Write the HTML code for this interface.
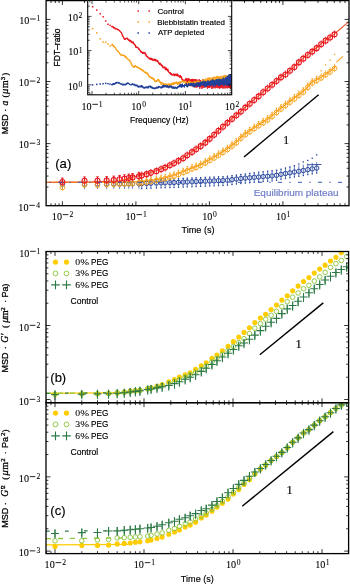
<!DOCTYPE html>
<html><head><meta charset="utf-8"><style>
html,body{margin:0;padding:0;background:#fff;}
#w{width:350px;height:584px;overflow:hidden;will-change:transform;}
svg{display:block;}
</style></head><body><div id="w">
<svg width="350" height="584" viewBox="0 0 350 584">
<rect x="0" y="0" width="350" height="584" fill="#fff"/>
<path d="M46.1 182.4L130 182.1L150 180.67L153 180.18L156 179.68L159 179.12L162 178.53L165 177.94L168 177.1L171 176.2L174 175.29L177 174.13L180 172.95L183 171.76L186 170.52L189 169.29L192 168.08L195 167L198 165.91L201 164.39L204 162.78L207 161.1L210 159.41L213 157.73L216 155.94L219 154.07L222 152.2L225 150.34L228 148.21L231 145.99L234 143.78L237 141.57L240 138.43L243 135.52L246 133.44L249 131.36L252 129.3L255 127.31L258 125.32L261 123.35L264 121.43L267 119.52L270 117.53L273 114.85L276 112.16L279 109.7L282 107.39L285 105.09L288 102.83L291 100.59L294 98.35L297 96.08L300 93.81L303 91.53L306 88.59L309 85.26L312 82.28L315 80.66L318 78.96L321 77.16L324 75.15L327 73.15L330 71.2L333 68.8L336 66.3" stroke="#f8a21a" stroke-width="1.2" fill="none" stroke-linejoin="round"/>
<path d="M336.4 62.1L342.9 56.4" stroke="#f8a21a" stroke-width="1.1" fill="none" stroke-linejoin="round"/>
<path d="M46.1 182.3L92 181.9L120 181L135 176.47L138 175.9L141 175.22L144 174.38L147 173.55L150 172.66L153 171.7L156 170.75L159 169.63L162 168.41L165 167.18L168 165.75L171 164.25L174 162.75L177 161.16L180 159.55L183 157.93L186 155.72L189 153.64L192 151.6L195 149.52L198 147.43L201 145.43L204 143.26L207 140.73L210 138.08L213 135.37L216 132.52L219 129.75L222 127.16L225 124.51L228 121.84L231 119.29L234 116.79L237 114.35L240 111.9L243 109.2L246 106.49L249 103.91L252 101.41L255 98.91L258 96.4L261 93.69L264 91.08L267 88.57L270 86.07L273 83.54L276 81L279 78.46L282 76.19L285 74.25L288 71.85L291 69.34L294 66.93L297 63.95L300 60.93L303 58.42L306 55.92L309 53.56L312 51.3L315 49.03L318 46.52L321 43.94L324 41.36L327 39.19L330 37.06L333 34.93L336 32.6L339 30.04L342 27.48L345 24.92L348 22.35" stroke="#f15a29" stroke-width="1.1" fill="none" stroke-linejoin="round"/>
<path d="M62.4 180.6L62.4 189.2M84.53 180.56L84.53 189.2M97.47 180.45L97.47 189.1M106.65 180.39L106.65 189.06M113.77 180.35L113.77 189.03M119.59 180.32L119.59 189M124.51 180.24L124.51 188.93M128.78 180.17L128.78 188.87M132.54 180.11L132.54 188.81M138.94 180L138.94 188.72M141.72 179.91L141.72 188.63M146.64 179.7L146.64 188.43M150.9 179.52L150.9 188.25M156.39 179.29L156.39 188.03M161.07 179.14L161.07 187.88M165.15 179.02L165.15 187.77M169.89 178.87L169.89 187.63M174.01 178.75L174.01 187.51M178.51 178.56L178.51 187.33M183.19 178.36L183.19 187.14M187.27 178.19L187.27 186.97M192.01 177.98L192.01 186.77M196.14 177.8L196.14 186.59M200.64 177.6L200.64 186.4M205.32 177.38L205.32 186.2M209.72 177.18L209.72 186.03M214.14 176.99L214.14 185.86M218.5 176.79L218.5 185.68M222.97 176.59L222.97 185.51M227.45 176.24L227.45 185.18M232 175.65L232 184.61M236.4 175.07L236.4 184.05M240.87 174.49L240.87 183.52M245.31 173.94L245.31 183.13M249.75 173.38L249.75 182.74M254.21 172.83L254.21 182.36M258.66 172.27L258.66 181.97M263.17 171.72L263.17 181.58M267.64 171.24L267.64 181.27M272.1 170.72L272.1 180.92M276.53 170.17L276.53 180.32M280.99 169.22L280.99 179.32M285.47 168.03L285.47 178.52M289.92 166.94L289.92 177.83M294.38 166.02L294.38 177.02M298.85 165.32L298.85 176.32M303.3 164.52L303.3 175.52M307.78 163.62L307.78 174.62M312.24 162.91L312.24 173.91M316.7 162.12L316.7 173.12" stroke="#21409a" stroke-width="0.7" fill="none"/>
<g fill="#21409a"><rect x="141.07" y="179.26" width="1.3" height="1.3"/><rect x="145.99" y="179.05" width="1.3" height="1.3"/><rect x="150.25" y="178.87" width="1.3" height="1.3"/><rect x="155.74" y="178.64" width="1.3" height="1.3"/><rect x="160.42" y="178.49" width="1.3" height="1.3"/><rect x="164.5" y="178.37" width="1.3" height="1.3"/><rect x="169.24" y="178.22" width="1.3" height="1.3"/><rect x="173.36" y="178.1" width="1.3" height="1.3"/><rect x="177.86" y="177.91" width="1.3" height="1.3"/><rect x="182.54" y="177.71" width="1.3" height="1.3"/><rect x="186.62" y="177.54" width="1.3" height="1.3"/><rect x="191.36" y="177.33" width="1.3" height="1.3"/><rect x="195.49" y="177.15" width="1.3" height="1.3"/><rect x="199.99" y="176.95" width="1.3" height="1.3"/><rect x="204.67" y="176.73" width="1.3" height="1.3"/><rect x="209.07" y="176.53" width="1.3" height="1.3"/><rect x="213.49" y="176.34" width="1.3" height="1.3"/><rect x="217.85" y="176.14" width="1.3" height="1.3"/><rect x="222.32" y="175.94" width="1.3" height="1.3"/><rect x="226.8" y="175.59" width="1.3" height="1.3"/><rect x="231.35" y="175" width="1.3" height="1.3"/><rect x="235.75" y="174.42" width="1.3" height="1.3"/><rect x="240.22" y="173.84" width="1.3" height="1.3"/><rect x="244.66" y="173.29" width="1.3" height="1.3"/><rect x="249.1" y="172.73" width="1.3" height="1.3"/><rect x="253.56" y="172.18" width="1.3" height="1.3"/><rect x="258.01" y="171.62" width="1.3" height="1.3"/><rect x="262.52" y="171.07" width="1.3" height="1.3"/><rect x="266.99" y="170.59" width="1.3" height="1.3"/><rect x="271.45" y="170.07" width="1.3" height="1.3"/><rect x="275.88" y="169.52" width="1.3" height="1.3"/><rect x="280.34" y="168.57" width="1.3" height="1.3"/><rect x="284.82" y="167.38" width="1.3" height="1.3"/><rect x="289.27" y="166.29" width="1.3" height="1.3"/><rect x="293.73" y="164.98" width="1.3" height="1.3"/><rect x="298.2" y="163.31" width="1.3" height="1.3"/><rect x="302.65" y="161.29" width="1.3" height="1.3"/><rect x="307.13" y="159.79" width="1.3" height="1.3"/><rect x="311.59" y="157.58" width="1.3" height="1.3"/><rect x="316.05" y="154.23" width="1.3" height="1.3"/></g>
<g fill="#21409a"><rect x="141.12" y="188.03" width="1.2" height="1.2"/><rect x="146.04" y="187.83" width="1.2" height="1.2"/><rect x="150.3" y="187.65" width="1.2" height="1.2"/><rect x="155.79" y="187.43" width="1.2" height="1.2"/><rect x="160.47" y="187.28" width="1.2" height="1.2"/><rect x="164.55" y="187.17" width="1.2" height="1.2"/><rect x="169.29" y="187.03" width="1.2" height="1.2"/><rect x="173.41" y="186.91" width="1.2" height="1.2"/><rect x="177.91" y="186.73" width="1.2" height="1.2"/><rect x="182.59" y="186.54" width="1.2" height="1.2"/><rect x="186.67" y="186.37" width="1.2" height="1.2"/><rect x="191.41" y="186.17" width="1.2" height="1.2"/><rect x="195.54" y="185.99" width="1.2" height="1.2"/><rect x="200.04" y="185.8" width="1.2" height="1.2"/><rect x="204.72" y="185.6" width="1.2" height="1.2"/><rect x="209.12" y="185.43" width="1.2" height="1.2"/><rect x="213.54" y="185.26" width="1.2" height="1.2"/><rect x="217.9" y="185.08" width="1.2" height="1.2"/><rect x="222.37" y="184.91" width="1.2" height="1.2"/><rect x="226.85" y="184.58" width="1.2" height="1.2"/><rect x="231.4" y="184.01" width="1.2" height="1.2"/><rect x="235.8" y="183.45" width="1.2" height="1.2"/><rect x="240.27" y="182.92" width="1.2" height="1.2"/><rect x="244.71" y="182.53" width="1.2" height="1.2"/><rect x="249.15" y="182.14" width="1.2" height="1.2"/><rect x="253.61" y="181.76" width="1.2" height="1.2"/><rect x="258.06" y="181.37" width="1.2" height="1.2"/><rect x="262.57" y="180.98" width="1.2" height="1.2"/><rect x="267.04" y="180.67" width="1.2" height="1.2"/><rect x="271.5" y="180.32" width="1.2" height="1.2"/><rect x="275.93" y="179.72" width="1.2" height="1.2"/><rect x="280.39" y="178.72" width="1.2" height="1.2"/><rect x="284.87" y="177.92" width="1.2" height="1.2"/><rect x="289.32" y="177.23" width="1.2" height="1.2"/><rect x="293.78" y="176.42" width="1.2" height="1.2"/><rect x="298.25" y="175.72" width="1.2" height="1.2"/><rect x="302.7" y="174.92" width="1.2" height="1.2"/><rect x="307.18" y="174.02" width="1.2" height="1.2"/><rect x="311.64" y="173.31" width="1.2" height="1.2"/><rect x="316.1" y="172.52" width="1.2" height="1.2"/></g>
<g fill="none" stroke="#21409a" stroke-width="0.95"><circle cx="62.4" cy="184.2" r="2.2"/><circle cx="84.53" cy="184.2" r="2.2"/><circle cx="97.47" cy="184.1" r="2.2"/><circle cx="106.65" cy="184.06" r="2.2"/><circle cx="113.77" cy="184.03" r="2.2"/><circle cx="119.59" cy="184" r="2.2"/><circle cx="124.51" cy="183.93" r="2.2"/><circle cx="128.78" cy="183.87" r="2.2"/><circle cx="132.54" cy="183.81" r="2.2"/><circle cx="138.94" cy="183.72" r="2.2"/><circle cx="141.72" cy="183.63" r="2.2"/><circle cx="146.64" cy="183.43" r="2.2"/><circle cx="150.9" cy="183.25" r="2.2"/><circle cx="156.39" cy="183.03" r="2.2"/><circle cx="161.07" cy="182.88" r="2.2"/><circle cx="165.15" cy="182.77" r="2.2"/><circle cx="169.89" cy="182.63" r="2.2"/><circle cx="174.01" cy="182.51" r="2.2"/><circle cx="178.51" cy="182.33" r="2.2"/><circle cx="183.19" cy="182.14" r="2.2"/><circle cx="187.27" cy="181.97" r="2.2"/><circle cx="192.01" cy="181.77" r="2.2"/><circle cx="196.14" cy="181.59" r="2.2"/><circle cx="200.64" cy="181.4" r="2.2"/><circle cx="205.32" cy="181.2" r="2.2"/><circle cx="209.72" cy="181.03" r="2.2"/><circle cx="214.14" cy="180.86" r="2.2"/><circle cx="218.5" cy="180.68" r="2.2"/><circle cx="222.97" cy="180.51" r="2.2"/><circle cx="227.45" cy="180.18" r="2.2"/><circle cx="232" cy="179.61" r="2.2"/><circle cx="236.4" cy="179.05" r="2.2"/><circle cx="240.87" cy="178.52" r="2.2"/><circle cx="245.31" cy="178.13" r="2.2"/><circle cx="249.75" cy="177.74" r="2.2"/><circle cx="254.21" cy="177.36" r="2.2"/><circle cx="258.66" cy="176.97" r="2.2"/><circle cx="263.17" cy="176.58" r="2.2"/><circle cx="267.64" cy="176.27" r="2.2"/><circle cx="272.1" cy="175.92" r="2.2"/><circle cx="276.53" cy="175.32" r="2.2"/><circle cx="280.99" cy="174.32" r="2.2"/><circle cx="285.47" cy="173.52" r="2.2"/><circle cx="289.92" cy="172.83" r="2.2"/><circle cx="294.38" cy="172.02" r="2.2"/><circle cx="298.85" cy="171.32" r="2.2"/><circle cx="303.3" cy="170.52" r="2.2"/><circle cx="307.78" cy="169.62" r="2.2"/><circle cx="312.24" cy="168.91" r="2.2"/><circle cx="316.7" cy="168.12" r="2.2"/></g>
<path d="M307 164.8L321.5 164.5" stroke="#21409a" stroke-width="0.9" fill="none" stroke-linejoin="round"/>
<path d="M62.4 183.8L62.4 190.8M84.53 181.17L84.53 188.2M97.47 181.35L97.47 188.4M106.65 180.84L106.65 187.9M113.77 180.56L113.77 187.63M119.59 180.33L119.59 187.42M124.51 180.06L124.51 187.15M128.78 179.82L128.78 186.92M132.54 179.61L132.54 186.71M138.94 179.25L138.94 186.36M141.72 178.94L141.72 186.06M146.64 178.25L146.64 185.37M150.9 177.59L150.9 184.72M156.39 176.68L156.39 183.82M161.07 175.77L161.07 182.92M165.15 174.96L165.15 182.11M169.89 173.58L169.89 180.73M174.01 172.32L174.01 179.49M178.51 170.56L178.51 177.73M183.19 168.7L183.19 175.88M187.27 167.02L187.27 174.2M192.01 165.09L192.01 172.28M196.14 163.59L196.14 170.78M200.64 161.57L200.64 168.78M205.32 158.96L205.32 166.24M209.72 156.42L209.72 163.77M214.14 153.86L214.14 161.29M218.5 151.09L218.5 158.58M222.97 148.23L222.97 155.8M227.45 145.17L227.45 152.81M232 141.75L232 149.46M236.4 138.43L236.4 146.22M240.87 133.86L240.87 141.71M245.31 130.19L245.31 138.12M249.75 127.05L249.75 135.04M254.21 124.04L254.21 132.04M258.66 121.08L258.66 129.08M263.17 118.16L263.17 126.16M267.64 115.31L267.64 123.31M272.1 111.85L272.1 119.85M276.53 107.89L276.53 115.89M280.99 104.37L280.99 112.37M285.47 100.93L285.47 108.93M289.92 97.6L289.92 105.6M294.38 94.26L294.38 102.26M298.85 90.88L298.85 98.88M303.3 87.5L303.3 95.5M307.78 82.82L307.78 90.82M312.24 78.35L312.24 86.35M316.7 75.94L316.7 83.94M321.16 73.26L321.16 81.26M325.61 70.26L325.61 78.26M330.08 67.35L330.08 75.35M334.54 63.75L334.54 71.75" stroke="#f8a21a" stroke-width="0.7" fill="none"/>
<g fill="#f8a21a"><rect x="320.51" y="70.11" width="1.3" height="1.3"/><rect x="324.96" y="64.16" width="1.3" height="1.3"/><rect x="329.43" y="59.56" width="1.3" height="1.3"/><rect x="333.89" y="53.78" width="1.3" height="1.3"/></g>
<path d="M62.4 183.1L62.4 187.4M61.5 183.1L63.3 183.1M84.53 180.5L84.53 184.8M83.63 180.5L85.43 180.5M97.47 180.7L97.47 185M96.57 180.7L98.37 180.7M106.65 180.2L106.65 184.5M105.75 180.2L107.55 180.2M113.77 179.93L113.77 184.23M112.87 179.93L114.67 179.93M119.59 179.72L119.59 184.02M118.69 179.72L120.49 179.72M124.51 179.45L124.51 183.75M123.61 179.45L125.41 179.45M128.78 179.22L128.78 183.52M127.88 179.22L129.68 179.22M132.54 179.01L132.54 183.31M131.64 179.01L133.44 179.01M138.94 178.66L138.94 182.96M138.04 178.66L139.84 178.66M141.72 178.36L141.72 182.66M140.82 178.36L142.62 178.36M146.64 177.67L146.64 181.97M145.74 177.67L147.54 177.67M150.9 177.02L150.9 181.32M150 177.02L151.8 177.02M156.39 176.12L156.39 180.42M155.49 176.12L157.29 176.12M161.07 175.22L161.07 179.52M160.17 175.22L161.97 175.22M165.15 174.41L165.15 178.71M164.25 174.41L166.05 174.41M169.89 173.03L169.89 177.33M168.99 173.03L170.79 173.03M174.01 171.79L174.01 176.09M173.11 171.79L174.91 171.79M178.51 170.03L178.51 174.33M177.61 170.03L179.41 170.03M183.19 168.18L183.19 172.48M182.29 168.18L184.09 168.18M187.27 166.5L187.27 170.8M186.37 166.5L188.17 166.5M192.01 164.58L192.01 168.88M191.11 164.58L192.91 164.58M196.14 163.08L196.14 167.38M195.24 163.08L197.04 163.08M200.64 161.08L200.64 165.38M199.74 161.08L201.54 161.08M205.32 158.54L205.32 162.84M204.42 158.54L206.22 158.54M209.72 156.07L209.72 160.37M208.82 156.07L210.62 156.07M214.14 153.59L214.14 157.89M213.24 153.59L215.04 153.59M218.5 150.88L218.5 155.18M217.6 150.88L219.4 150.88M222.97 148.1L222.97 152.4M222.07 148.1L223.87 148.1M227.45 145.11L227.45 149.41M226.55 145.11L228.35 145.11M232 141.76L232 146.06M231.1 141.76L232.9 141.76M236.4 138.52L236.4 142.82M235.5 138.52L237.3 138.52M240.87 134.01L240.87 138.31M239.97 134.01L241.77 134.01M245.31 130.42L245.31 134.72M244.41 130.42L246.21 130.42M249.75 127.34L249.75 131.64M248.85 127.34L250.65 127.34M254.21 124.34L254.21 128.64M253.31 124.34L255.11 124.34M258.66 121.38L258.66 125.68M257.76 121.38L259.56 121.38M263.17 118.46L263.17 122.76M262.27 118.46L264.07 118.46M267.64 115.61L267.64 119.91M266.74 115.61L268.54 115.61M272.1 112.15L272.1 116.45M271.2 112.15L273 112.15M276.53 108.19L276.53 112.49M275.63 108.19L277.43 108.19M280.99 104.67L280.99 108.97M280.09 104.67L281.89 104.67M285.47 101.23L285.47 105.53M284.57 101.23L286.37 101.23M289.92 97.9L289.92 102.2M289.02 97.9L290.82 97.9M294.38 94.56L294.38 98.86M293.48 94.56L295.28 94.56M298.85 91.18L298.85 95.48M297.95 91.18L299.75 91.18M303.3 87.8L303.3 92.1M302.4 87.8L304.2 87.8M307.78 83.12L307.78 87.42M306.88 83.12L308.68 83.12M312.24 78.65L312.24 82.95M311.34 78.65L313.14 78.65M316.7 76.24L316.7 80.54M315.8 76.24L317.6 76.24" stroke="#f8a21a" stroke-width="0.7" fill="none"/>
<g fill="none" stroke="#f8a21a" stroke-width="0.95"><circle cx="62.4" cy="187.4" r="2.4"/><circle cx="84.53" cy="184.8" r="2.4"/><circle cx="97.47" cy="185" r="2.4"/><circle cx="106.65" cy="184.5" r="2.4"/><circle cx="113.77" cy="184.23" r="2.4"/><circle cx="119.59" cy="184.02" r="2.4"/><circle cx="124.51" cy="183.75" r="2.4"/><circle cx="128.78" cy="183.52" r="2.4"/><circle cx="132.54" cy="183.31" r="2.4"/><circle cx="138.94" cy="182.96" r="2.4"/><circle cx="141.72" cy="182.66" r="2.4"/><circle cx="146.64" cy="181.97" r="2.4"/><circle cx="150.9" cy="181.32" r="2.4"/><circle cx="156.39" cy="180.42" r="2.4"/><circle cx="161.07" cy="179.52" r="2.4"/><circle cx="165.15" cy="178.71" r="2.4"/><circle cx="169.89" cy="177.33" r="2.4"/><circle cx="174.01" cy="176.09" r="2.4"/><circle cx="178.51" cy="174.33" r="2.4"/><circle cx="183.19" cy="172.48" r="2.4"/><circle cx="187.27" cy="170.8" r="2.4"/><circle cx="192.01" cy="168.88" r="2.4"/><circle cx="196.14" cy="167.38" r="2.4"/><circle cx="200.64" cy="165.38" r="2.4"/><circle cx="205.32" cy="162.84" r="2.4"/><circle cx="209.72" cy="160.37" r="2.4"/><circle cx="214.14" cy="157.89" r="2.4"/><circle cx="218.5" cy="155.18" r="2.4"/><circle cx="222.97" cy="152.4" r="2.4"/><circle cx="227.45" cy="149.41" r="2.4"/><circle cx="232" cy="146.06" r="2.4"/><circle cx="236.4" cy="142.82" r="2.4"/><circle cx="240.87" cy="138.31" r="2.4"/><circle cx="245.31" cy="134.72" r="2.4"/><circle cx="249.75" cy="131.64" r="2.4"/><circle cx="254.21" cy="128.64" r="2.4"/><circle cx="258.66" cy="125.68" r="2.4"/><circle cx="263.17" cy="122.76" r="2.4"/><circle cx="267.64" cy="119.91" r="2.4"/><circle cx="272.1" cy="116.45" r="2.4"/><circle cx="276.53" cy="112.49" r="2.4"/><circle cx="280.99" cy="108.97" r="2.4"/><circle cx="285.47" cy="105.53" r="2.4"/><circle cx="289.92" cy="102.2" r="2.4"/><circle cx="294.38" cy="98.86" r="2.4"/><circle cx="298.85" cy="95.48" r="2.4"/><circle cx="303.3" cy="92.1" r="2.4"/><circle cx="307.78" cy="87.42" r="2.4"/><circle cx="312.24" cy="82.95" r="2.4"/><circle cx="316.7" cy="80.54" r="2.4"/><circle cx="321.16" cy="77.86" r="2.4"/><circle cx="325.61" cy="74.86" r="2.4"/><circle cx="330.08" cy="71.95" r="2.4"/><circle cx="334.54" cy="68.35" r="2.4"/></g>
<path d="M62.4 178.1L62.4 185.9M84.53 176.9L84.53 184.7M97.47 176.8L97.47 184.6M106.65 176.6L106.65 184.4M113.77 176.1L113.77 183.9M119.59 175.4L119.59 183.2M124.51 174.8L124.51 182.6M128.78 174.1L128.78 181.9M132.54 173.48L132.54 181.28M138.94 172.31L138.94 180.11M141.72 171.62L141.72 179.42M146.64 170.25L146.64 178.05M150.9 168.97L150.9 176.77M156.39 167.23L156.39 175.03M161.07 165.39L161.07 173.19M165.15 163.72L165.15 171.52M169.89 161.41L169.89 169.21M174.01 159.34L174.01 167.14M178.51 156.95L178.51 164.75M183.19 154.38L183.19 162.18M187.27 151.41L187.27 159.21M192.01 148.2L192.01 156M196.14 145.33L196.14 153.13M200.64 142.27L200.64 150.07M205.32 138.74L205.32 146.54M209.72 134.94L209.72 142.74M214.14 130.9L214.14 138.7M218.5 126.78L218.5 134.58M222.97 122.92L222.97 130.72M227.45 118.93L227.45 126.73M232 115.04L232 122.84M236.4 111.44L236.4 119.24M240.87 107.72L240.87 115.52M245.31 103.71L245.31 111.51M249.75 99.89L249.75 107.69M254.21 96.17L254.21 103.97M258.66 92.44L258.66 100.24M263.17 88.37L263.17 96.17M267.64 84.64L267.64 92.44M272.1 80.9L272.1 88.7M276.53 77.15L276.53 84.95M280.99 73.45L280.99 81.25M285.47 70.55L285.47 78.35M289.92 66.82L289.92 74.62M294.38 63.22L294.38 71.02M298.85 58.49L298.85 66.29M303.3 54.77L303.3 62.57M307.78 51.09L307.78 58.89M312.24 47.72L312.24 55.52M316.7 44.24L316.7 52.04M321.16 40.41L321.16 48.21M325.61 36.77L325.61 44.57M330.08 33.61L330.08 41.41M334.54 30.44L334.54 38.24" stroke="#e8161f" stroke-width="0.8" fill="none"/>
<path d="M62.4 178.1L62.4 182M61.1 178.1L63.7 178.1M84.53 176.9L84.53 180.8M83.23 176.9L85.83 176.9M97.47 176.8L97.47 180.7M96.17 176.8L98.77 176.8M106.65 176.6L106.65 180.5M105.35 176.6L107.95 176.6M113.77 176.1L113.77 180M112.47 176.1L115.07 176.1M119.59 175.4L119.59 179.3M118.29 175.4L120.89 175.4M124.51 174.8L124.51 178.7M123.21 174.8L125.81 174.8M128.78 174.1L128.78 178M127.48 174.1L130.08 174.1M132.54 173.48L132.54 177.38M131.24 173.48L133.84 173.48M138.94 172.31L138.94 176.21M137.64 172.31L140.24 172.31" stroke="#e8161f" stroke-width="0.9" fill="none"/>
<g fill="none" stroke="#e8161f" stroke-width="1.1"><circle cx="62.4" cy="182" r="2.5"/><circle cx="84.53" cy="180.8" r="2.5"/><circle cx="97.47" cy="180.7" r="2.5"/><circle cx="106.65" cy="180.5" r="2.5"/><circle cx="113.77" cy="180" r="2.5"/><circle cx="119.59" cy="179.3" r="2.5"/><circle cx="124.51" cy="178.7" r="2.5"/><circle cx="128.78" cy="178" r="2.5"/><circle cx="132.54" cy="177.38" r="2.5"/><circle cx="138.94" cy="176.21" r="2.5"/><circle cx="141.72" cy="175.52" r="2.5"/><circle cx="146.64" cy="174.15" r="2.5"/><circle cx="150.9" cy="172.87" r="2.5"/><circle cx="156.39" cy="171.13" r="2.5"/><circle cx="161.07" cy="169.29" r="2.5"/><circle cx="165.15" cy="167.62" r="2.5"/><circle cx="169.89" cy="165.31" r="2.5"/><circle cx="174.01" cy="163.24" r="2.5"/><circle cx="178.51" cy="160.85" r="2.5"/><circle cx="183.19" cy="158.28" r="2.5"/><circle cx="187.27" cy="155.31" r="2.5"/><circle cx="192.01" cy="152.1" r="2.5"/><circle cx="196.14" cy="149.23" r="2.5"/><circle cx="200.64" cy="146.17" r="2.5"/><circle cx="205.32" cy="142.64" r="2.5"/><circle cx="209.72" cy="138.84" r="2.5"/><circle cx="214.14" cy="134.8" r="2.5"/><circle cx="218.5" cy="130.68" r="2.5"/><circle cx="222.97" cy="126.82" r="2.5"/><circle cx="227.45" cy="122.83" r="2.5"/><circle cx="232" cy="118.94" r="2.5"/><circle cx="236.4" cy="115.34" r="2.5"/><circle cx="240.87" cy="111.62" r="2.5"/><circle cx="245.31" cy="107.61" r="2.5"/><circle cx="249.75" cy="103.79" r="2.5"/><circle cx="254.21" cy="100.07" r="2.5"/><circle cx="258.66" cy="96.34" r="2.5"/><circle cx="263.17" cy="92.27" r="2.5"/><circle cx="267.64" cy="88.54" r="2.5"/><circle cx="272.1" cy="84.8" r="2.5"/><circle cx="276.53" cy="81.05" r="2.5"/><circle cx="280.99" cy="77.35" r="2.5"/><circle cx="285.47" cy="74.45" r="2.5"/><circle cx="289.92" cy="70.72" r="2.5"/><circle cx="294.38" cy="67.12" r="2.5"/><circle cx="298.85" cy="62.39" r="2.5"/><circle cx="303.3" cy="58.67" r="2.5"/><circle cx="307.78" cy="54.99" r="2.5"/><circle cx="312.24" cy="51.62" r="2.5"/><circle cx="316.7" cy="48.14" r="2.5"/><circle cx="321.16" cy="44.31" r="2.5"/><circle cx="325.61" cy="40.67" r="2.5"/><circle cx="330.08" cy="37.51" r="2.5"/><circle cx="334.54" cy="34.34" r="2.5"/></g>
<path d="M46.1 182.3H349" stroke="#3d58b3" stroke-width="1" stroke-dasharray="4.2 7.2 1.4 7.2" stroke-dashoffset="8.2" fill="none"/>
<text transform="translate(253.7 196.2) scale(1.1085 1)" font-family='"Liberation Sans", sans-serif' font-size="9" stroke="#6d7cc6" stroke-width="0.16" fill="#6d7cc6">Equilibrium plateau</text>
<path d="M244 157L318.6 94.8" stroke="#000" stroke-width="1.4"/>
<text x="283.12" y="143.6" font-family='"Liberation Serif", serif' font-size="12.5" stroke="#000" stroke-width="0.08" fill="#000">1</text>
<text x="55.21" y="167.97" font-family='"Liberation Sans", sans-serif' font-size="13.2" stroke="#000" stroke-width="0.16" fill="#000">(a)</text>
<path d="M62.4 205.7L62.4 201.3M62.4 0.6L62.4 5M135.9 205.7L135.9 201.3M135.9 0.6L135.9 5M209.4 205.7L209.4 201.3M209.4 0.6L209.4 5M282.9 205.7L282.9 201.3M282.9 0.6L282.9 5M51.01 205.7L51.01 203.3M51.01 0.6L51.01 3M55.28 205.7L55.28 203.3M55.28 0.6L55.28 3M59.04 205.7L59.04 203.3M59.04 0.6L59.04 3M84.53 205.7L84.53 203.3M84.53 0.6L84.53 3M97.47 205.7L97.47 203.3M97.47 0.6L97.47 3M106.65 205.7L106.65 203.3M106.65 0.6L106.65 3M113.77 205.7L113.77 203.3M113.77 0.6L113.77 3M119.59 205.7L119.59 203.3M119.59 0.6L119.59 3M124.51 205.7L124.51 203.3M124.51 0.6L124.51 3M128.78 205.7L128.78 203.3M128.78 0.6L128.78 3M132.54 205.7L132.54 203.3M132.54 0.6L132.54 3M158.03 205.7L158.03 203.3M158.03 0.6L158.03 3M170.97 205.7L170.97 203.3M170.97 0.6L170.97 3M180.15 205.7L180.15 203.3M180.15 0.6L180.15 3M187.27 205.7L187.27 203.3M187.27 0.6L187.27 3M193.09 205.7L193.09 203.3M193.09 0.6L193.09 3M198.01 205.7L198.01 203.3M198.01 0.6L198.01 3M202.28 205.7L202.28 203.3M202.28 0.6L202.28 3M206.04 205.7L206.04 203.3M206.04 0.6L206.04 3M231.53 205.7L231.53 203.3M231.53 0.6L231.53 3M244.47 205.7L244.47 203.3M244.47 0.6L244.47 3M253.65 205.7L253.65 203.3M253.65 0.6L253.65 3M260.77 205.7L260.77 203.3M260.77 0.6L260.77 3M266.59 205.7L266.59 203.3M266.59 0.6L266.59 3M271.51 205.7L271.51 203.3M271.51 0.6L271.51 3M275.78 205.7L275.78 203.3M275.78 0.6L275.78 3M279.54 205.7L279.54 203.3M279.54 0.6L279.54 3M305.03 205.7L305.03 203.3M305.03 0.6L305.03 3M317.97 205.7L317.97 203.3M317.97 0.6L317.97 3M327.15 205.7L327.15 203.3M327.15 0.6L327.15 3M334.27 205.7L334.27 203.3M334.27 0.6L334.27 3M340.09 205.7L340.09 203.3M340.09 0.6L340.09 3M345.01 205.7L345.01 203.3M345.01 0.6L345.01 3M46.1 143.6L50.5 143.6M349 143.6L344.6 143.6M46.1 81.5L50.5 81.5M349 81.5L344.6 81.5M46.1 19.4L50.5 19.4M349 19.4L344.6 19.4M46.1 187.01L48.5 187.01M349 187.01L346.6 187.01M46.1 176.07L48.5 176.07M349 176.07L346.6 176.07M46.1 168.31L48.5 168.31M349 168.31L346.6 168.31M46.1 162.29L48.5 162.29M349 162.29L346.6 162.29M46.1 157.38L48.5 157.38M349 157.38L346.6 157.38M46.1 153.22L48.5 153.22M349 153.22L346.6 153.22M46.1 149.62L48.5 149.62M349 149.62L346.6 149.62M46.1 146.44L48.5 146.44M349 146.44L346.6 146.44M46.1 124.91L48.5 124.91M349 124.91L346.6 124.91M46.1 113.97L48.5 113.97M349 113.97L346.6 113.97M46.1 106.21L48.5 106.21M349 106.21L346.6 106.21M46.1 100.19L48.5 100.19M349 100.19L346.6 100.19M46.1 95.28L48.5 95.28M349 95.28L346.6 95.28M46.1 91.12L48.5 91.12M349 91.12L346.6 91.12M46.1 87.52L48.5 87.52M349 87.52L346.6 87.52M46.1 84.34L48.5 84.34M349 84.34L346.6 84.34M46.1 62.81L48.5 62.81M349 62.81L346.6 62.81M46.1 51.87L48.5 51.87M349 51.87L346.6 51.87M46.1 44.11L48.5 44.11M349 44.11L346.6 44.11M46.1 38.09L48.5 38.09M349 38.09L346.6 38.09M46.1 33.18L48.5 33.18M349 33.18L346.6 33.18M46.1 29.02L48.5 29.02M349 29.02L346.6 29.02M46.1 25.42L48.5 25.42M349 25.42L346.6 25.42M46.1 22.24L48.5 22.24M349 22.24L346.6 22.24" stroke="#000" stroke-width="0.8" fill="none"/>
<rect x="46.1" y="0.6" width="302.9" height="205.1" fill="none" stroke="#000" stroke-width="1.3"/>
<text transform="translate(51.82 219.91) scale(1.0937 1)" font-family='"Liberation Serif", serif' font-size="9.3" stroke="#000" stroke-width="0.08" fill="#000">10</text>
<rect x="62.78" y="214.25" width="5.6" height="0.85" fill="#000"/>
<text x="69.54" y="217" font-family='"Liberation Serif", serif' font-size="7.6" stroke="#000" stroke-width="0.08" fill="#000">2</text>
<text transform="translate(125.49 219.91) scale(1.0937 1)" font-family='"Liberation Serif", serif' font-size="9.3" stroke="#000" stroke-width="0.08" fill="#000">10</text>
<rect x="136.45" y="214.25" width="5.6" height="0.85" fill="#000"/>
<text x="142.91" y="217" font-family='"Liberation Serif", serif' font-size="7.6" stroke="#000" stroke-width="0.08" fill="#000">1</text>
<text transform="translate(202.19 219.91) scale(1.0937 1)" font-family='"Liberation Serif", serif' font-size="9.3" stroke="#000" stroke-width="0.08" fill="#000">10</text>
<text x="213.05" y="216.92" font-family='"Liberation Serif", serif' font-size="7.6" stroke="#000" stroke-width="0.08" fill="#000">0</text>
<text transform="translate(275.94 219.91) scale(1.0937 1)" font-family='"Liberation Serif", serif' font-size="9.3" stroke="#000" stroke-width="0.08" fill="#000">10</text>
<text x="286.45" y="217" font-family='"Liberation Serif", serif' font-size="7.6" stroke="#000" stroke-width="0.08" fill="#000">1</text>
<text transform="translate(19.14 24.21) scale(1.0937 1)" font-family='"Liberation Serif", serif' font-size="9.3" stroke="#000" stroke-width="0.08" fill="#000">10</text>
<rect x="30.1" y="18.55" width="5.6" height="0.85" fill="#000"/>
<text x="36.56" y="21.3" font-family='"Liberation Serif", serif' font-size="7.6" stroke="#000" stroke-width="0.08" fill="#000">1</text>
<text transform="translate(18.8 86.31) scale(1.0937 1)" font-family='"Liberation Serif", serif' font-size="9.3" stroke="#000" stroke-width="0.08" fill="#000">10</text>
<rect x="29.76" y="80.65" width="5.6" height="0.85" fill="#000"/>
<text x="36.52" y="83.4" font-family='"Liberation Serif", serif' font-size="7.6" stroke="#000" stroke-width="0.08" fill="#000">2</text>
<text transform="translate(18.68 148.41) scale(1.0937 1)" font-family='"Liberation Serif", serif' font-size="9.3" stroke="#000" stroke-width="0.08" fill="#000">10</text>
<rect x="29.65" y="142.75" width="5.6" height="0.85" fill="#000"/>
<text x="36.4" y="145.42" font-family='"Liberation Serif", serif' font-size="7.6" stroke="#000" stroke-width="0.08" fill="#000">3</text>
<text transform="translate(18.3 210.51) scale(1.0937 1)" font-family='"Liberation Serif", serif' font-size="9.3" stroke="#000" stroke-width="0.08" fill="#000">10</text>
<rect x="29.27" y="204.85" width="5.6" height="0.85" fill="#000"/>
<text x="36.21" y="207.6" font-family='"Liberation Serif", serif' font-size="7.6" stroke="#000" stroke-width="0.08" fill="#000">4</text>
<text x="181.52" y="233.3" font-family='"Liberation Sans", sans-serif' font-size="9.1" stroke="#000" stroke-width="0.16" fill="#000">Time (s)</text>
<text transform="rotate(-90)" x="-134.32" y="8.1" font-family='"Liberation Sans", sans-serif' font-size="9" fill="#000" stroke="#000" stroke-width="0.28">MSD</text>
<text transform="rotate(-90)" x="-111.78" y="8.1" font-family='"Liberation Sans", sans-serif' font-size="9" fill="#000" stroke="#000" stroke-width="0.28">·</text>
<text transform="rotate(-90)" x="-105.49" y="8.1" font-family='"Liberation Serif", serif' font-size="9.6" font-style="italic" fill="#000" stroke="#000" stroke-width="0.28">a</text>
<text transform="rotate(-90)" x="-97.41" y="8.1" font-family='"Liberation Serif", serif' font-size="9" fill="#000" stroke="#000" stroke-width="0.28">(</text>
<text transform="rotate(-90)" x="-94" y="8.1" font-family='"Liberation Serif", serif' font-size="10.5" font-style="italic" fill="#000" stroke="#000" stroke-width="0.28">μ</text>
<text transform="rotate(-90)" x="-88" y="8.1" font-family='"Liberation Serif", serif' font-size="9.8" fill="#000" stroke="#000" stroke-width="0.28">m</text>
<text transform="rotate(-90)" x="-80.31" y="4.5" font-family='"Liberation Serif", serif' font-size="7" fill="#000" stroke="#000" stroke-width="0.28">3</text>
<text transform="rotate(-90)" x="-75.67" y="8.1" font-family='"Liberation Serif", serif' font-size="9" fill="#000" stroke="#000" stroke-width="0.28">)</text>
<rect x="87.1" y="0" width="145.2" height="95.4" fill="#fff"/>
<g fill="#e8161f"><rect x="91.85" y="6" width="1.5" height="1.5"/><rect x="96" y="9.34" width="1.5" height="1.5"/><rect x="99.45" y="12.96" width="1.5" height="1.5"/><rect x="102.39" y="16.04" width="1.5" height="1.5"/><rect x="104.96" y="20.22" width="1.5" height="1.5"/><rect x="107.24" y="23.51" width="1.5" height="1.5"/><rect x="109.29" y="24.65" width="1.5" height="1.5"/><rect x="111.15" y="25.83" width="1.5" height="1.5"/><rect x="112.86" y="26.99" width="1.5" height="1.5"/></g>
<path d="M112 26.91L112.45 26.42L112.9 26.84L113.35 26.87L113.8 27.77L114.25 27.93L114.7 27.61L115.15 28.73L115.6 28.98L116.05 28.91L116.5 29.08L116.95 28.96L117.4 29.11L117.85 29.86L118.3 29.72L118.75 30.12L119.2 30.51L119.65 30.68L120.1 31.43L120.55 31.76L121 32.48L121.45 32.64L121.9 33.9L122.35 34.92L122.8 36.22L123.25 36.92L123.7 37.43L124.15 38.75L124.6 39.42L125.05 39.4L125.5 39.14L125.95 38.49L126.4 38.3L126.85 38.32L127.3 38.13L127.75 39.54L128.2 39.31L128.65 40.29L129.1 39.92L129.55 41.09L130 41.24L130.45 40.26L130.9 40.85L131.35 42.19L131.8 41.81L132.25 42.86L132.7 42.26L133.15 42.06L133.6 43.34L134.05 44.26L134.5 44.2L134.95 44.62L135.4 45.69L135.85 47.34L136.3 47.48L136.75 46.84L137.2 47.36L137.65 47.46L138.1 47.72L138.55 49.15L139 48.66L139.45 49.84L139.9 50.28L140.35 50.5L140.65 51.71L140.95 51.21L141.25 52.39L141.55 51.95L141.85 52.44L142.15 52.16L142.45 52.28L142.75 53.36L143.05 53.14L143.35 52.42L143.65 53.32L143.95 52.34L144.25 52.64L144.55 53.36L144.85 53.15L145.15 52.85L145.45 54.71L145.75 54.07L146.05 54.65L146.35 55.95L146.65 55.8L146.95 56.28L147.25 56.4L147.55 56.6L147.85 57.52L148.15 57.19L148.45 57.9L148.75 57.73L149.05 58.03L149.35 58.96L149.65 58.42L149.95 58.74L150.25 59.17L150.55 58.14L150.85 58.22L151.15 59.47L151.45 59.46L151.75 58.73L152.05 58.76L152.35 59.71L152.65 60.13L152.95 59.19L153.25 60.37L153.55 60.32L153.85 59.95L154.15 59.73L154.45 59.3L154.75 59.25L155.05 60.69L155.35 59.65L155.65 60.42L155.95 59.93L156.25 60.96L156.55 60.81L156.85 60.53L157.15 60.54L157.45 61.54L157.75 60.74L158.05 61.44L158.35 62.44L158.65 63.24L158.95 63.22L159.25 63.05L159.55 64.34L159.85 63.6L160.15 63.31L160.45 64.2L160.75 64.92L161.05 64.39L161.35 64.88L161.65 65.5L161.95 66.15L162.25 65.38L162.55 66.09L162.85 67.45L163.15 67.85L163.45 67.33L163.75 67.61L164.05 67.61L164.35 67.02L164.65 66.99L164.95 67.16L165.25 69.32L165.55 69.06L165.85 69.83L166.15 67.96L166.45 69.52L166.75 69.38L167.05 70.06L167.35 69.28L167.65 70.94L167.95 69.27L168.25 70.67L168.55 71.45L168.85 72.17L169.15 72.17L169.45 72.46L169.75 72.99L170.05 73.56L170.35 72.62L170.65 73.65L170.95 74.38L171.25 74.52L171.55 73.73L171.85 74.76L172.15 75.13L172.45 74.67L172.75 74.84L173.05 74.36L173.35 74.85L173.65 74.96L173.95 73.85L174.25 75.06L174.55 75.75L174.85 75.41L175.15 74.9L175.45 74.22L175.75 75.08L176.05 74.84L176.35 74.63L176.65 75.61L176.95 74.05L177.25 75.61L177.55 74.25L177.85 75.75L178.15 75.67L178.45 75.25L178.75 76.41L179.05 76.1L179.35 76.49L179.65 77.29L179.95 75.96L180.25 75.55L180.55 76.32L180.85 77.3L181.15 76.72L181.45 77.11L181.75 79.19L182.05 79.12L182.35 79.1L182.65 80.55L182.95 79.77L183.25 80.98L183.55 80.42L183.85 80.96L184.15 81.55L184.45 81.51L184.75 81.16L185.05 79.8L185.35 79.96L185.65 79.1L185.95 78.43L186.25 78.94L186.55 79.61L186.85 79.74L187.15 79.59L187.45 80.33L187.75 79.06L188.05 79.04L188.35 79.87L188.65 79.69L188.95 79.77L189.25 80.39L189.55 80.86L189.85 80.57L190.15 80.18L190.45 81.34L190.75 81.65L191.05 80.49L191.35 79.66L191.65 79.57L191.95 81.43" stroke="#e8161f" stroke-width="1.35" fill="none" stroke-linejoin="round"/>
<path d="M186 78.75L186.55 85.11L187.1 79.22L187.65 84.45L188.2 78.16L188.75 85.12L189.3 78.76L189.85 86.17L190.4 79.63L190.95 86.05L191.5 79.52L192.05 86.42L192.6 78.89L193.15 86.28L193.7 79.05L194.25 87.38L194.8 78.98L195.35 87.48L195.9 79.07L196.45 87.5L197 79.59L197.55 87.25L198.1 80.54L198.65 86.82L199.2 79.18L199.75 88.69L200.3 80.03L200.85 87.27L201.4 80.94L201.95 88.82L202.5 79.41L203.05 87.88L203.6 79.49L204.15 87.69L204.7 80.41L205.25 87.43L205.8 80.59L206.35 87.23L206.9 79.69L207.45 88.61L208 80.15L208.55 87.91L209.1 80.54L209.65 88.02L210.2 80.21L210.75 87.22L211.3 80.87L211.85 88.92L212.4 81.36L212.95 88.38L213.5 80.29L214.05 87.84L214.6 80.94L215.15 88.41L215.7 79.94L216.25 87.62L216.8 80.44L217.35 88.13L217.9 81.29L218.45 88.12L219 79.92L219.55 88.7L220.1 80.69L220.65 88.16L221.2 80.36L221.75 88L222.3 80.71L222.85 88.63L223.4 80.24L223.95 88.24L224.5 80.42L225.05 88.51L225.6 80.21L226.15 87.76L226.7 80.8L227.25 88.42L227.8 80.32L228.35 88.1L228.9 80.65L229.45 87.79L230 81.18L230.55 89.02L231.1 81.23" stroke="#e8161f" stroke-width="1.0" fill="none" stroke-linejoin="round"/>
<g fill="#f8a21a"><rect x="91.85" y="27.91" width="1.5" height="1.5"/><rect x="96" y="32.11" width="1.5" height="1.5"/><rect x="99.45" y="38.16" width="1.5" height="1.5"/><rect x="102.39" y="41.26" width="1.5" height="1.5"/><rect x="104.96" y="41.61" width="1.5" height="1.5"/><rect x="107.24" y="43.23" width="1.5" height="1.5"/><rect x="109.29" y="45.14" width="1.5" height="1.5"/><rect x="111.15" y="44.15" width="1.5" height="1.5"/><rect x="112.86" y="45.31" width="1.5" height="1.5"/></g>
<path d="M112 44.38L112.45 44.18L112.9 45.12L113.35 45.92L113.8 45.97L114.25 47.04L114.7 46.94L115.15 47.46L115.6 47.88L116.05 49.34L116.5 49.73L116.95 50.53L117.4 50.95L117.85 50.93L118.3 51.7L118.75 52.36L119.2 52.53L119.65 53.87L120.1 53.94L120.55 54.34L121 55.14L121.45 54.68L121.9 55.56L122.35 55.23L122.8 55.39L123.25 55.28L123.7 55.48L124.15 55.54L124.6 55.8L125.05 57.03L125.5 56.41L125.95 57.56L126.4 57.03L126.85 58.5L127.3 58.73L127.75 58.94L128.2 59.47L128.65 59.72L129.1 60.47L129.55 60.08L130 61.13L130.45 62.29L130.9 62.27L131.35 64.27L131.8 65.13L132.25 65.34L132.7 66.19L133.15 66.78L133.6 66.6L134.05 67.37L134.5 66.33L134.95 65.65L135.4 65.66L135.85 66.56L136.3 67.14L136.75 66.66L137.2 66.92L137.65 67.28L138.1 67.85L138.55 67.38L139 68.28L139.45 68.47L139.9 68.85L140.35 68.46L140.65 68.62L140.95 69.07L141.25 70.12L141.55 69.42L141.85 69.99L142.15 69.77L142.45 69.67L142.75 69.83L143.05 71.16L143.35 71.32L143.65 70.93L143.95 71.6L144.25 71.8L144.55 72.3L144.85 72.52L145.15 71.88L145.45 72.94L145.75 73.08L146.05 72.71L146.35 73.33L146.65 72.93L146.95 72.95L147.25 72.99L147.55 74.39L147.85 73.78L148.15 74.11L148.45 75.67L148.75 76.08L149.05 76.1L149.35 77.08L149.65 76.36L149.95 77.13L150.25 77.28L150.55 77.52L150.85 77.18L151.15 77.07L151.45 77.52L151.75 78.41L152.05 78.6L152.35 78.29L152.65 77.95L152.95 77.84L153.25 79.32L153.55 79.08L153.85 79.8L154.15 79.17L154.45 79.86L154.75 81.08L155.05 81.27L155.35 81.65L155.65 81.41L155.95 80.99L156.25 81.07L156.55 81.31L156.85 80.34L157.15 80.53L157.45 79.98L157.75 80.56L158.05 79.33L158.35 80.26L158.65 80.95L158.95 79.91L159.25 81.13L159.55 81.56L159.85 82.23L160.15 82.24L160.45 81.88L160.75 82.57L161.05 84.15L161.35 84.31L161.65 82.74L161.95 82.77L162.25 82.89L162.55 82.86L162.85 83.91L163.15 83.36L163.45 85.08L163.75 84.73L164.05 83.71L164.35 84.85L164.65 84.4L164.95 84.8L165.25 84.22L165.55 84.12L165.85 84.18L166.15 84.63L166.45 85.39L166.75 85.06L167.05 83.92L167.35 85.35L167.65 85.68L167.95 85.48L168.25 85.54L168.55 83.84L168.85 84.86L169.15 84L169.45 85.56L169.75 84.24L170.05 85.34L170.35 84.26L170.65 85.16L170.95 84.19L171.25 83.41L171.55 84L171.85 83.65L172.15 84.77L172.45 83.27L172.75 83.65L173.05 83.67L173.35 84.46L173.65 82.51L173.95 83.53L174.25 83.23L174.55 83.6L174.85 83.99L175.15 82.34L175.45 83.2L175.75 82.83L176.05 82.93L176.35 81.86L176.65 83.54L176.95 83.91L177.25 82.57L177.55 82.65L177.85 84.34L178.15 82.44L178.45 82.27L178.75 82.16L179.05 83.69L179.35 83.47L179.65 82.68L179.95 82.96L180.25 81.54L180.55 82.81L180.85 82.18L181.15 82.24L181.45 81.85L181.75 81.78L182.05 81.29L182.35 80.79L182.65 81.54L182.95 81.02L183.25 81.93L183.55 82.07L183.85 81.98L184.15 81.55L184.45 81.23L184.75 81.71L185.05 82.1L185.35 82.61L185.65 83.53L185.95 81.79L186.25 82.84L186.55 82.93L186.85 83.34L187.15 83.64L187.45 83.32L187.75 82.91L188.05 83.12L188.35 82.84L188.65 83.18L188.95 82.75L189.25 82.62L189.55 81.51L189.85 82.84" stroke="#f8a21a" stroke-width="1.35" fill="none" stroke-linejoin="round"/>
<path d="M188 82.62L188.5 83.03L189 80.84L189.5 84.53L190 81.02L190.5 82.9L191 81.75L191.5 83.26L192 82.08L192.5 83.01L193 82.1L193.5 83.13L194 81.34L194.5 84.18L195 81.39L195.5 84.12L196 81.33L196.5 82.5L197 81.53L197.5 83.43L198 80.4L198.5 82.66L199 81.26L199.5 83.33L200 81.21L200.5 83.62L201 81.01L201.5 83.21L202 80.29L202.5 83.24L203 79.25L203.5 83.82L204 79.1L204.5 83.46L205 80L205.5 83.18L206 78.29L206.5 83.44L207 78.99L207.5 82.25L208 77.63L208.5 82.83L209 77.35L209.5 83.49L210 77.95L210.5 82.71L211 77.53L211.5 82.92L212 78.2L212.5 82.24L213 76.97L213.5 82.69L214 76.58L214.5 82.67L215 76.87L215.5 82.33L216 76.97L216.5 82.46L217 75.78L217.5 83.25L218 76.13L218.5 82.19L219 76.08L219.5 83.04L220 76.93L220.5 82.24L221 75.81L221.5 81.45L222 76.56L222.5 81.54L223 75.8L223.5 81.81L224 75.27L224.5 81.78L225 74.9L225.5 81.16L226 75.4L226.5 82.48L227 75.49L227.5 81.37L228 75.45L228.5 81.05L229 74.83L229.5 82.4L230 75.63L230.5 81.7L231 75.38L231.5 81.72" stroke="#f8a21a" stroke-width="1.0" fill="none" stroke-linejoin="round"/>
<g fill="#21409a"><rect x="91.85" y="84.16" width="1.5" height="1.5"/><rect x="96" y="83.65" width="1.5" height="1.5"/><rect x="99.45" y="83.34" width="1.5" height="1.5"/><rect x="102.39" y="83.01" width="1.5" height="1.5"/><rect x="104.96" y="82.6" width="1.5" height="1.5"/><rect x="107.24" y="82.91" width="1.5" height="1.5"/><rect x="109.29" y="83.43" width="1.5" height="1.5"/><rect x="111.15" y="83.89" width="1.5" height="1.5"/><rect x="112.86" y="82.95" width="1.5" height="1.5"/></g>
<path d="M112 84.66L112.45 84.57L112.9 84.07L113.35 84.41L113.8 84.22L114.25 83.95L114.7 84.24L115.15 83.16L115.6 82.81L116.05 83.36L116.5 82.66L116.95 82.48L117.4 82.61L117.85 82.64L118.3 83.18L118.75 82.52L119.2 82.8L119.65 83.34L120.1 83.5L120.55 84.07L121 84.16L121.45 83.93L121.9 83.99L122.35 84.76L122.8 84.92L123.25 84.08L123.7 84.74L124.15 84.89L124.6 84.72L125.05 84.18L125.5 84.84L125.95 84.54L126.4 83.53L126.85 84L127.3 83.18L127.75 82.85L128.2 83.39L128.65 83.49L129.1 83.68L129.55 84.15L130 84.53L130.45 84.81L130.9 84.82L131.35 84.85L131.8 84.54L132.25 83.87L132.7 83.78L133.15 84.55L133.6 84.59L134.05 84.94L134.5 84.23L134.95 84.54L135.4 85.72L135.85 85.32L136.3 85.63L136.75 84.95L137.2 85.62L137.65 86.6L138.1 86.42L138.55 87.15L139 86.06L139.45 86.4L139.9 86.87L140.35 86.29L140.65 86.78L140.95 86.4L141.25 85.71L141.55 85.65L141.85 87.11L142.15 85.98L142.45 86.26L142.75 86.64L143.05 87.38L143.35 87.76L143.65 87.36L143.95 87.56L144.25 88.16L144.55 87.45L144.85 87.53L145.15 87.82L145.45 87.79L145.75 86.83L146.05 86.88L146.35 86.85L146.65 87.67L146.95 87.55L147.25 87.91L147.55 87.54L147.85 86.71L148.15 87.42L148.45 87.7L148.75 86.69L149.05 86.13L149.35 86.62L149.65 86.42L149.95 86.21L150.25 86.12L150.55 86.39L150.85 87.65L151.15 86.57L151.45 87.56L151.75 87.1L152.05 87.22L152.35 88.31L152.65 87.67L152.95 87.58L153.25 88.01L153.55 88.39L153.85 88.15L154.15 88.67L154.45 88L154.75 88.17L155.05 88.44L155.35 88.03L155.65 88.38L155.95 87.9L156.25 87.3L156.55 87.18L156.85 88.06L157.15 87.9L157.45 88.09L157.75 87.61L158.05 87.3L158.35 86.53L158.65 87.59L158.95 86.54L159.25 87.06L159.55 86.69L159.85 87.11L160.15 86.92L160.45 87.24L160.75 87.92L161.05 87.61L161.35 86.89L161.65 87.88L161.95 87.6L162.25 87.62L162.55 85.69L162.85 86.78L163.15 87.22L163.45 85.63L163.75 85.32L164.05 86.52L164.35 85.59L164.65 85.76L164.95 86.77L165.25 85.9L165.55 85.58L165.85 85.7L166.15 86.08L166.45 86.94L166.75 86.3L167.05 87.23L167.35 85.72L167.65 86.15L167.95 87.01L168.25 86.73L168.55 86.81L168.85 87.8L169.15 86.39L169.45 86.21L169.75 85.92L170.05 86.94L170.35 86.56L170.65 86.98L170.95 85.98L171.25 86.01L171.55 86.88L171.85 87.74L172.15 86.77L172.45 88.16L172.75 87.5L173.05 87.18L173.35 88.07L173.65 86.94L173.95 87.83L174.25 88.43L174.55 87.82L174.85 87.4L175.15 87.12L175.45 88.09L175.75 87.13L176.05 87.43L176.35 87.7L176.65 88.47L176.95 87.77L177.25 87.32L177.55 87.95L177.85 86.62L178.15 86.64L178.45 87.09L178.75 86.62L179.05 85.7L179.35 85.92L179.65 86.64L179.95 85.17L180.25 85.99L180.55 84.35L180.85 86.21L181.15 85.73L181.45 85.06L181.75 86.63" stroke="#21409a" stroke-width="1.35" fill="none" stroke-linejoin="round"/>
<path d="M180 83.84L180.4 86.47L180.8 84.18L181.2 87.66L181.6 84.45L182 87.3L182.4 83.67L182.8 86.88L183.2 84.94L183.6 86.87L184 85.05L184.4 87.48L184.8 83.95L185.2 85.86L185.6 84.57L186 86.05L186.4 83.16L186.8 87.1L187.2 84.59L187.6 87.25L188 84.72L188.4 86.07L188.8 83.08L189.2 85.89L189.6 84.62L190 85.83L190.4 83.08L190.8 85.63L191.2 82.81L191.6 85.62L192 83.29L192.4 85.81L192.8 83.14L193.2 87.15L193.6 82.81L194 86.91L194.4 83.77L194.8 86.43L195.2 83.38L195.6 86.75L196 83.26L196.4 85.74L196.8 82.65L197.2 85.73L197.6 82.63L198 87.03L198.4 82.53L198.8 85.34L199.2 82.47L199.6 86.64L200 82.27L200.4 86.4L200.8 81.49L201.2 85.21L201.6 82.37L202 85.15L202.4 81.58L202.8 85.72L203.2 81.23L203.6 85.05L204 80.75L204.4 86.66L204.8 81.83L205.2 86.63L205.6 81.33L206 86.59L206.4 81.85L206.8 85.95L207.2 81.1L207.6 85.71L208 80.42L208.4 85.44L208.8 81.17L209.2 85.08L209.6 81.25L210 85.61L210.4 80.68L210.8 86.14L211.2 80.63L211.6 84.89L212 79.79L212.4 84.62L212.8 79.27L213.2 86.3L213.6 80.17L214 86.31L214.4 80.38L214.8 85.1L215.2 80.59L215.6 86.17L216 79.55L216.4 84.63L216.8 79.18L217.2 84.76L217.6 79.14L218 84.58L218.4 79.64L218.8 86.17L219.2 78.61L219.6 85.79L220 79.16L220.4 85.23L220.8 79.62L221.2 85.01L221.6 79.34L222 84.37L222.4 79.48L222.8 84.61L223.2 77.62L223.6 85.84L224 78.79L224.4 85.44L224.8 78.64L225.2 84.88L225.6 76.92L226 84.75L226.4 77.89L226.8 85.92L227.2 76.04L227.6 84.92L228 75.89L228.4 85.73L228.8 74.55L229.2 85.57L229.6 74.74L230 85.04L230.4 74.35L230.8 84.17L231.2 75.55" stroke="#21409a" stroke-width="1.0" fill="none" stroke-linejoin="round"/>
<path d="M92 94.8L92 91M92 0.4L92 4.2M138.7 94.8L138.7 91M138.7 0.4L138.7 4.2M185.4 94.8L185.4 91M185.4 0.4L185.4 4.2M89.86 94.8L89.86 92.7M89.86 0.4L89.86 2.5M106.06 94.8L106.06 92.7M106.06 0.4L106.06 2.5M114.28 94.8L114.28 92.7M114.28 0.4L114.28 2.5M120.12 94.8L120.12 92.7M120.12 0.4L120.12 2.5M124.64 94.8L124.64 92.7M124.64 0.4L124.64 2.5M128.34 94.8L128.34 92.7M128.34 0.4L128.34 2.5M131.47 94.8L131.47 92.7M131.47 0.4L131.47 2.5M134.17 94.8L134.17 92.7M134.17 0.4L134.17 2.5M136.56 94.8L136.56 92.7M136.56 0.4L136.56 2.5M152.76 94.8L152.76 92.7M152.76 0.4L152.76 2.5M160.98 94.8L160.98 92.7M160.98 0.4L160.98 2.5M166.82 94.8L166.82 92.7M166.82 0.4L166.82 2.5M171.34 94.8L171.34 92.7M171.34 0.4L171.34 2.5M175.04 94.8L175.04 92.7M175.04 0.4L175.04 2.5M178.17 94.8L178.17 92.7M178.17 0.4L178.17 2.5M180.87 94.8L180.87 92.7M180.87 0.4L180.87 2.5M183.26 94.8L183.26 92.7M183.26 0.4L183.26 2.5M199.46 94.8L199.46 92.7M199.46 0.4L199.46 2.5M207.68 94.8L207.68 92.7M207.68 0.4L207.68 2.5M213.52 94.8L213.52 92.7M213.52 0.4L213.52 2.5M218.04 94.8L218.04 92.7M218.04 0.4L218.04 2.5M221.74 94.8L221.74 92.7M221.74 0.4L221.74 2.5M224.87 94.8L224.87 92.7M224.87 0.4L224.87 2.5M227.57 94.8L227.57 92.7M227.57 0.4L227.57 2.5M229.96 94.8L229.96 92.7M229.96 0.4L229.96 2.5M87.7 84.8L91.5 84.8M231.7 84.8L227.9 84.8M87.7 50.6L91.5 50.6M231.7 50.6L227.9 50.6M87.7 16.4L91.5 16.4M231.7 16.4L227.9 16.4M87.7 92.39L89.8 92.39M231.7 92.39L229.6 92.39M87.7 90.1L89.8 90.1M231.7 90.1L229.6 90.1M87.7 88.11L89.8 88.11M231.7 88.11L229.6 88.11M87.7 86.36L89.8 86.36M231.7 86.36L229.6 86.36M87.7 74.5L89.8 74.5M231.7 74.5L229.6 74.5M87.7 68.48L89.8 68.48M231.7 68.48L229.6 68.48M87.7 64.21L89.8 64.21M231.7 64.21L229.6 64.21M87.7 60.9L89.8 60.9M231.7 60.9L229.6 60.9M87.7 58.19L89.8 58.19M231.7 58.19L229.6 58.19M87.7 55.9L89.8 55.9M231.7 55.9L229.6 55.9M87.7 53.91L89.8 53.91M231.7 53.91L229.6 53.91M87.7 52.16L89.8 52.16M231.7 52.16L229.6 52.16M87.7 40.3L89.8 40.3M231.7 40.3L229.6 40.3M87.7 34.28L89.8 34.28M231.7 34.28L229.6 34.28M87.7 30.01L89.8 30.01M231.7 30.01L229.6 30.01M87.7 26.7L89.8 26.7M231.7 26.7L229.6 26.7M87.7 23.99L89.8 23.99M231.7 23.99L229.6 23.99M87.7 21.7L89.8 21.7M231.7 21.7L229.6 21.7M87.7 19.71L89.8 19.71M231.7 19.71L229.6 19.71M87.7 17.96L89.8 17.96M231.7 17.96L229.6 17.96M87.7 6.1L89.8 6.1M231.7 6.1L229.6 6.1" stroke="#000" stroke-width="0.7" fill="none"/>
<rect x="87.7" y="0.4" width="144" height="94.4" fill="none" stroke="#000" stroke-width="1.1"/>
<text transform="translate(81.39 109.51) scale(1.0937 1)" font-family='"Liberation Serif", serif' font-size="9.3" stroke="#000" stroke-width="0.08" fill="#000">10</text>
<rect x="92.35" y="103.85" width="5.6" height="0.85" fill="#000"/>
<text x="98.8" y="106.6" font-family='"Liberation Serif", serif' font-size="7.6" stroke="#000" stroke-width="0.08" fill="#000">1</text>
<text transform="translate(131.29 109.51) scale(1.0937 1)" font-family='"Liberation Serif", serif' font-size="9.3" stroke="#000" stroke-width="0.08" fill="#000">10</text>
<text x="142.15" y="106.52" font-family='"Liberation Serif", serif' font-size="7.6" stroke="#000" stroke-width="0.08" fill="#000">0</text>
<text transform="translate(178.24 109.51) scale(1.0937 1)" font-family='"Liberation Serif", serif' font-size="9.3" stroke="#000" stroke-width="0.08" fill="#000">10</text>
<text x="188.75" y="106.6" font-family='"Liberation Serif", serif' font-size="7.6" stroke="#000" stroke-width="0.08" fill="#000">1</text>
<text transform="translate(224.77 109.51) scale(1.0937 1)" font-family='"Liberation Serif", serif' font-size="9.3" stroke="#000" stroke-width="0.08" fill="#000">10</text>
<text x="235.59" y="106.6" font-family='"Liberation Serif", serif' font-size="7.6" stroke="#000" stroke-width="0.08" fill="#000">2</text>
<text transform="translate(67.64 89.61) scale(1.0937 1)" font-family='"Liberation Serif", serif' font-size="9.3" stroke="#000" stroke-width="0.08" fill="#000">10</text>
<text x="78.5" y="86.62" font-family='"Liberation Serif", serif' font-size="7.6" stroke="#000" stroke-width="0.08" fill="#000">0</text>
<text transform="translate(68.14 55.41) scale(1.0937 1)" font-family='"Liberation Serif", serif' font-size="9.3" stroke="#000" stroke-width="0.08" fill="#000">10</text>
<text x="78.66" y="52.5" font-family='"Liberation Serif", serif' font-size="7.6" stroke="#000" stroke-width="0.08" fill="#000">1</text>
<text transform="translate(67.8 21.21) scale(1.0937 1)" font-family='"Liberation Serif", serif' font-size="9.3" stroke="#000" stroke-width="0.08" fill="#000">10</text>
<text x="78.62" y="18.3" font-family='"Liberation Serif", serif' font-size="7.6" stroke="#000" stroke-width="0.08" fill="#000">2</text>
<text transform="translate(130.02 122.9) scale(0.9922 1)" font-family='"Liberation Sans", sans-serif' font-size="8.6" stroke="#000" stroke-width="0.16" fill="#000">Frequency (Hz)</text>
<text transform="rotate(-90)" x="-66.38" y="59.6" font-family='"Liberation Sans", sans-serif' font-size="8.5" fill="#000" stroke="#000" stroke-width="0.28">FDT–ratio</text>
<g fill="#e8161f"><rect x="137.45" y="10.25" width="1.5" height="1.5"/><rect x="148.45" y="10.25" width="1.5" height="1.5"/></g>
<text transform="translate(157.49 13.75) scale(1.0059 1)" font-family='"Liberation Sans", sans-serif' font-size="8.1" stroke="#000" stroke-width="0.16" fill="#000">Control</text>
<g fill="#f8a21a"><rect x="137.45" y="21.25" width="1.5" height="1.5"/><rect x="148.45" y="21.25" width="1.5" height="1.5"/></g>
<text transform="translate(157.27 24.9) scale(0.9786 1)" font-family='"Liberation Sans", sans-serif' font-size="8.1" stroke="#000" stroke-width="0.16" fill="#000">Blebbistatin treated</text>
<g fill="#21409a"><rect x="137.45" y="32.25" width="1.5" height="1.5"/><rect x="148.45" y="32.25" width="1.5" height="1.5"/></g>
<text transform="translate(157.9 35.1) scale(0.9605 1)" font-family='"Liberation Sans", sans-serif' font-size="8.1" stroke="#000" stroke-width="0.16" fill="#000">ATP depleted</text>
<clipPath id="cb"><rect x="46" y="251.5" width="302.6" height="151.2"/></clipPath>
<clipPath id="cc"><rect x="46" y="402.7" width="302.6" height="150.9"/></clipPath>
<g clip-path="url(#cb)">
<path d="M46 393.3L128 392.7" stroke="#ffcc00" stroke-width="1.3" fill="none" stroke-linejoin="round"/>
<path d="M46 393.3L128 392.7" stroke="#8dc63f" stroke-width="1.3" fill="none" stroke-linejoin="round" stroke-dasharray="5 7"/>
<path d="M46 393.3L128 392.7" stroke="#2d7a46" stroke-width="1.2" fill="none" stroke-linejoin="round" stroke-dasharray="3.6 15.4"/>
<g fill="#ffcc00" stroke="none" stroke-width="0"><circle cx="55" cy="394" r="2.55"/><circle cx="81.79" cy="393.8" r="2.55"/><circle cx="97.46" cy="393.7" r="2.55"/><circle cx="108.58" cy="393.4" r="2.55"/><circle cx="117.21" cy="392.9" r="2.55"/><circle cx="124.26" cy="392.01" r="2.55"/><circle cx="130.21" cy="391" r="2.55"/><circle cx="135.38" cy="390.6" r="2.55"/><circle cx="139.93" cy="390.21" r="2.55"/><circle cx="147.68" cy="388.57" r="2.55"/><circle cx="151.05" cy="387.86" r="2.55"/><circle cx="157.01" cy="386.3" r="2.55"/><circle cx="162.17" cy="384.55" r="2.55"/><circle cx="168.81" cy="381.82" r="2.55"/><circle cx="174.48" cy="379.57" r="2.55"/><circle cx="179.42" cy="377.09" r="2.55"/><circle cx="185.15" cy="374.88" r="2.55"/><circle cx="190.15" cy="372.81" r="2.55"/><circle cx="195.6" cy="369.36" r="2.55"/><circle cx="201.27" cy="365.78" r="2.55"/><circle cx="206.21" cy="362.72" r="2.55"/><circle cx="211.95" cy="358.26" r="2.55"/><circle cx="216.94" cy="355.1" r="2.55"/><circle cx="222.39" cy="350.86" r="2.55"/><circle cx="228.06" cy="346.26" r="2.55"/><circle cx="233.38" cy="341.67" r="2.55"/><circle cx="238.74" cy="336.98" r="2.55"/><circle cx="244.02" cy="332.38" r="2.55"/><circle cx="249.44" cy="327.74" r="2.55"/><circle cx="254.85" cy="322.54" r="2.55"/><circle cx="260.37" cy="318.03" r="2.55"/><circle cx="265.69" cy="314.22" r="2.55"/><circle cx="271.1" cy="309.51" r="2.55"/><circle cx="276.48" cy="304.93" r="2.55"/><circle cx="281.86" cy="300.12" r="2.55"/><circle cx="287.25" cy="295.87" r="2.55"/><circle cx="292.65" cy="290.76" r="2.55"/><circle cx="298.11" cy="286.08" r="2.55"/><circle cx="303.52" cy="281.55" r="2.55"/><circle cx="308.92" cy="277.6" r="2.55"/><circle cx="314.28" cy="272.99" r="2.55"/><circle cx="319.69" cy="269.12" r="2.55"/><circle cx="325.12" cy="265.16" r="2.55"/><circle cx="330.5" cy="261.03" r="2.55"/><circle cx="335.91" cy="257.18" r="2.55"/><circle cx="341.31" cy="252.76" r="2.55"/><circle cx="346.71" cy="248.24" r="2.55"/></g>
<g fill="none" stroke="#8dc63f" stroke-width="0.95"><circle cx="55" cy="394.3" r="2.3"/><circle cx="81.79" cy="393.95" r="2.3"/><circle cx="97.46" cy="393.75" r="2.3"/><circle cx="108.58" cy="393.6" r="2.3"/><circle cx="117.21" cy="392.89" r="2.3"/><circle cx="124.26" cy="392.3" r="2.3"/><circle cx="130.21" cy="391.62" r="2.3"/><circle cx="135.38" cy="391.03" r="2.3"/><circle cx="139.93" cy="390.51" r="2.3"/><circle cx="147.68" cy="388.96" r="2.3"/><circle cx="151.05" cy="388.29" r="2.3"/><circle cx="157.01" cy="387.1" r="2.3"/><circle cx="162.17" cy="385.74" r="2.3"/><circle cx="168.81" cy="383.42" r="2.3"/><circle cx="174.48" cy="381.43" r="2.3"/><circle cx="179.42" cy="379.7" r="2.3"/><circle cx="185.15" cy="377.04" r="2.3"/><circle cx="190.15" cy="374.66" r="2.3"/><circle cx="195.6" cy="372.06" r="2.3"/><circle cx="201.27" cy="369.36" r="2.3"/><circle cx="206.21" cy="365.86" r="2.3"/><circle cx="211.95" cy="361.76" r="2.3"/><circle cx="216.94" cy="358.19" r="2.3"/><circle cx="222.39" cy="354.29" r="2.3"/><circle cx="228.06" cy="350.24" r="2.3"/><circle cx="233.38" cy="346.44" r="2.3"/><circle cx="238.74" cy="342.56" r="2.3"/><circle cx="244.02" cy="338.71" r="2.3"/><circle cx="249.44" cy="333.56" r="2.3"/><circle cx="254.85" cy="328.15" r="2.3"/><circle cx="260.37" cy="323.61" r="2.3"/><circle cx="265.69" cy="319.25" r="2.3"/><circle cx="271.1" cy="315.29" r="2.3"/><circle cx="276.48" cy="311.38" r="2.3"/><circle cx="281.86" cy="306.62" r="2.3"/><circle cx="287.25" cy="301.78" r="2.3"/><circle cx="292.65" cy="297.16" r="2.3"/><circle cx="298.11" cy="292.97" r="2.3"/><circle cx="303.52" cy="288.74" r="2.3"/><circle cx="308.92" cy="285.37" r="2.3"/><circle cx="314.28" cy="281.08" r="2.3"/><circle cx="319.69" cy="276.84" r="2.3"/><circle cx="325.12" cy="272.37" r="2.3"/><circle cx="330.5" cy="267.38" r="2.3"/><circle cx="335.91" cy="263.67" r="2.3"/><circle cx="341.31" cy="260.41" r="2.3"/><circle cx="346.71" cy="256.5" r="2.3"/></g>
<path d="M55 390.5L55 399.7M81.79 390.1L81.79 399.3M97.46 389.87L97.46 399.07M108.58 389.71L108.58 398.91M117.21 389.17L117.21 398.37M124.26 388.7L124.26 397.9M130.21 387.98L130.21 397.18M135.38 387.36L135.38 396.56M139.93 386.81L139.93 396.01M147.68 385.51L147.68 394.71M151.05 384.95L151.05 394.15M157.01 383.85L157.01 393.05M162.17 382.83L162.17 392.03M168.81 381.53L168.81 390.73M174.48 379.61L174.48 388.81M179.42 377.69L179.42 386.89M185.15 375.33L185.15 384.53M190.15 373.19L190.15 382.39M195.6 370.84L195.6 380.04M201.27 367.38L201.27 376.58M206.21 364.18L206.21 373.38M211.95 360.43L211.95 369.63M216.94 356.82L216.94 366.02M222.39 353.07L222.39 362.27M228.06 349.23L228.06 358.43M233.38 345.58L233.38 354.78M238.74 341.81L238.74 351.01M244.02 339.08L244.02 348.28M249.44 335.23L249.44 344.43M254.85 331.11L254.85 340.31M260.37 326.61L260.37 335.81M265.69 322.25L265.69 331.45M271.1 318.29L271.1 327.49M276.48 314.38L276.48 323.58M281.86 309.62L281.86 318.82M287.25 304.85L287.25 314.05M292.65 301.56L292.65 310.76M298.11 297.23L298.11 306.43M303.52 292.94L303.52 302.14M308.92 288.83L308.92 298.03M314.28 284.77L314.28 293.97M319.69 280.43L319.69 289.63M325.12 276.07L325.12 285.27M330.5 272.32L330.5 281.52M335.91 268.57L335.91 277.77M341.31 265.59L341.31 274.79M346.71 262.67L346.71 271.87" stroke="#2d7a46" stroke-width="1.0" fill="none"/>
<path d="M51 394.5h8M55 390.5v8M77.79 394.1h8M81.79 390.1v8M93.46 393.87h8M97.46 389.87v8M104.58 393.71h8M108.58 389.71v8M113.21 393.17h8M117.21 389.17v8M120.26 392.7h8M124.26 388.7v8M126.21 391.98h8M130.21 387.98v8M131.38 391.36h8M135.38 387.36v8M135.93 390.81h8M139.93 386.81v8M143.68 389.51h8M147.68 385.51v8M147.05 388.95h8M151.05 384.95v8M153.01 387.85h8M157.01 383.85v8M158.17 386.83h8M162.17 382.83v8M164.81 385.53h8M168.81 381.53v8M170.48 383.61h8M174.48 379.61v8M175.42 381.69h8M179.42 377.69v8M181.15 379.33h8M185.15 375.33v8M186.15 377.19h8M190.15 373.19v8M191.6 374.84h8M195.6 370.84v8M197.27 371.38h8M201.27 367.38v8M202.21 368.18h8M206.21 364.18v8M207.95 364.43h8M211.95 360.43v8M212.94 360.82h8M216.94 356.82v8M218.39 357.07h8M222.39 353.07v8M224.06 353.23h8M228.06 349.23v8M229.38 349.58h8M233.38 345.58v8M234.74 345.81h8M238.74 341.81v8M240.02 343.08h8M244.02 339.08v8M245.44 339.23h8M249.44 335.23v8M250.85 335.11h8M254.85 331.11v8M256.37 330.61h8M260.37 326.61v8M261.69 326.25h8M265.69 322.25v8M267.1 322.29h8M271.1 318.29v8M272.48 318.38h8M276.48 314.38v8M277.86 313.62h8M281.86 309.62v8M283.25 308.85h8M287.25 304.85v8M288.65 305.56h8M292.65 301.56v8M294.11 301.23h8M298.11 297.23v8M299.52 296.94h8M303.52 292.94v8M304.92 292.83h8M308.92 288.83v8M310.28 288.77h8M314.28 284.77v8M315.69 284.43h8M319.69 280.43v8M321.12 280.07h8M325.12 276.07v8M326.5 276.32h8M330.5 272.32v8M331.91 272.57h8M335.91 268.57v8M337.31 269.59h8M341.31 265.59v8M342.71 266.67h8M346.71 262.67v8" stroke="#2d7a46" stroke-width="1.05" fill="none"/>
</g>
<g clip-path="url(#cc)">
<path d="M46 544.9L128 544.3" stroke="#ffcc00" stroke-width="1.3" fill="none" stroke-linejoin="round"/>
<path d="M46 538.6L128 538" stroke="#8dc63f" stroke-width="1.3" fill="none" stroke-linejoin="round" stroke-dasharray="5 7"/>
<path d="M46 531.2L128 530.6" stroke="#2d7a46" stroke-width="1.2" fill="none" stroke-linejoin="round" stroke-dasharray="3.6 15.4"/>
<g fill="#ffcc00" stroke="none" stroke-width="0"><circle cx="55" cy="546.6" r="2.55"/><circle cx="81.79" cy="545.4" r="2.55"/><circle cx="97.46" cy="545.39" r="2.55"/><circle cx="108.58" cy="545.11" r="2.55"/><circle cx="117.21" cy="543.89" r="2.55"/><circle cx="124.26" cy="543.38" r="2.55"/><circle cx="130.21" cy="542.94" r="2.55"/><circle cx="135.38" cy="542.3" r="2.55"/><circle cx="139.93" cy="541.87" r="2.55"/><circle cx="147.68" cy="540.75" r="2.55"/><circle cx="151.05" cy="539.95" r="2.55"/><circle cx="157.01" cy="538.47" r="2.55"/><circle cx="162.17" cy="537.1" r="2.55"/><circle cx="168.81" cy="534.22" r="2.55"/><circle cx="174.48" cy="531.93" r="2.55"/><circle cx="179.42" cy="529.94" r="2.55"/><circle cx="185.15" cy="527.04" r="2.55"/><circle cx="190.15" cy="525.12" r="2.55"/><circle cx="195.6" cy="522.15" r="2.55"/><circle cx="201.27" cy="517.97" r="2.55"/><circle cx="206.21" cy="515.11" r="2.55"/><circle cx="211.95" cy="511.21" r="2.55"/><circle cx="216.94" cy="507.23" r="2.55"/><circle cx="222.39" cy="503.27" r="2.55"/><circle cx="228.06" cy="499.08" r="2.55"/><circle cx="233.38" cy="493.93" r="2.55"/><circle cx="238.74" cy="489.61" r="2.55"/><circle cx="244.02" cy="484.53" r="2.55"/><circle cx="249.44" cy="479.75" r="2.55"/><circle cx="254.85" cy="473.98" r="2.55"/><circle cx="260.37" cy="469.12" r="2.55"/><circle cx="265.69" cy="464.96" r="2.55"/><circle cx="271.1" cy="460.6" r="2.55"/><circle cx="276.48" cy="456.45" r="2.55"/><circle cx="281.86" cy="452.59" r="2.55"/><circle cx="287.25" cy="447.74" r="2.55"/><circle cx="292.65" cy="442.26" r="2.55"/><circle cx="298.11" cy="437.85" r="2.55"/><circle cx="303.52" cy="433.02" r="2.55"/><circle cx="308.92" cy="429.61" r="2.55"/><circle cx="314.28" cy="425.12" r="2.55"/><circle cx="319.69" cy="420.66" r="2.55"/><circle cx="325.12" cy="416.8" r="2.55"/><circle cx="330.5" cy="412.68" r="2.55"/><circle cx="335.91" cy="408.46" r="2.55"/><circle cx="341.31" cy="404.85" r="2.55"/><circle cx="346.71" cy="401.47" r="2.55"/></g>
<g fill="none" stroke="#8dc63f" stroke-width="0.95"><circle cx="55" cy="540.8" r="2.3"/><circle cx="81.79" cy="540.8" r="2.3"/><circle cx="97.46" cy="539.98" r="2.3"/><circle cx="108.58" cy="539.33" r="2.3"/><circle cx="117.21" cy="537.9" r="2.3"/><circle cx="124.26" cy="537.68" r="2.3"/><circle cx="130.21" cy="537.27" r="2.3"/><circle cx="135.38" cy="537" r="2.3"/><circle cx="139.93" cy="536.66" r="2.3"/><circle cx="147.68" cy="536.12" r="2.3"/><circle cx="151.05" cy="535.35" r="2.3"/><circle cx="157.01" cy="534.04" r="2.3"/><circle cx="162.17" cy="532.92" r="2.3"/><circle cx="168.81" cy="530.33" r="2.3"/><circle cx="174.48" cy="528.52" r="2.3"/><circle cx="179.42" cy="526.35" r="2.3"/><circle cx="185.15" cy="523.99" r="2.3"/><circle cx="190.15" cy="521.92" r="2.3"/><circle cx="195.6" cy="519.07" r="2.3"/><circle cx="201.27" cy="516.05" r="2.3"/><circle cx="206.21" cy="512.97" r="2.3"/><circle cx="211.95" cy="509.4" r="2.3"/><circle cx="216.94" cy="505.58" r="2.3"/><circle cx="222.39" cy="501.39" r="2.3"/><circle cx="228.06" cy="496.78" r="2.3"/><circle cx="233.38" cy="492.43" r="2.3"/><circle cx="238.74" cy="487.75" r="2.3"/><circle cx="244.02" cy="483.12" r="2.3"/><circle cx="249.44" cy="478.2" r="2.3"/><circle cx="254.85" cy="473.38" r="2.3"/><circle cx="260.37" cy="468.86" r="2.3"/><circle cx="265.69" cy="464.87" r="2.3"/><circle cx="271.1" cy="460.6" r="2.3"/><circle cx="276.48" cy="456.45" r="2.3"/><circle cx="281.86" cy="452.59" r="2.3"/><circle cx="287.25" cy="447.74" r="2.3"/><circle cx="292.65" cy="442.26" r="2.3"/><circle cx="298.11" cy="437.85" r="2.3"/><circle cx="303.52" cy="433.02" r="2.3"/><circle cx="308.92" cy="429.61" r="2.3"/><circle cx="314.28" cy="425.12" r="2.3"/><circle cx="319.69" cy="420.66" r="2.3"/><circle cx="325.12" cy="416.8" r="2.3"/><circle cx="330.5" cy="412.68" r="2.3"/><circle cx="335.91" cy="408.46" r="2.3"/><circle cx="341.31" cy="404.85" r="2.3"/><circle cx="346.71" cy="401.47" r="2.3"/></g>
<path d="M55 529.4L55 538.6M81.79 528.6L81.79 537.8M97.46 528.55L97.46 537.75M108.58 526.97L108.58 536.17M117.21 526.89L117.21 536.09M124.26 526.18L124.26 535.38M130.21 525.66L130.21 534.86M135.38 525.3L135.38 534.5M139.93 524.7L139.93 533.9M147.68 523.93L147.68 533.13M151.05 523.42L151.05 532.62M157.01 522.25L157.01 531.45M162.17 520.79L162.17 529.99M168.81 518.71L168.81 527.91M174.48 517.17L174.48 526.37M179.42 515.27L179.42 524.47M185.15 513.83L185.15 523.03M190.15 511.65L190.15 520.85M195.6 509.64L195.6 518.84M201.27 506.47L201.27 515.67M206.21 504.66L206.21 513.86M211.95 501.1L211.95 510.3M216.94 497.41L216.94 506.61M222.39 493.47L222.39 502.67M228.06 488.78L228.06 497.98M233.38 484.43L233.38 493.63M238.74 480.37L238.74 489.57M244.02 476.36L244.02 485.56M249.44 472.18L249.44 481.38M254.85 467.94L254.85 477.14M260.37 464.4L260.37 473.6M265.69 460.59L265.69 469.79M271.1 456.4L271.1 465.6M276.48 452.25L276.48 461.45M281.86 448.39L281.86 457.59M287.25 443.55L287.25 452.75M292.65 438.26L292.65 447.46M298.11 433.85L298.11 443.05M303.52 429.02L303.52 438.22M308.92 425.61L308.92 434.81M314.28 421.12L314.28 430.32M319.69 416.66L319.69 425.86M325.12 412.8L325.12 422M330.5 408.68L330.5 417.88M335.91 404.46L335.91 413.66M341.31 400.85L341.31 410.05M346.71 397.47L346.71 406.67" stroke="#2d7a46" stroke-width="1.0" fill="none"/>
<path d="M51 533.4h8M55 529.4v8M77.79 532.6h8M81.79 528.6v8M93.46 532.55h8M97.46 528.55v8M104.58 530.97h8M108.58 526.97v8M113.21 530.89h8M117.21 526.89v8M120.26 530.18h8M124.26 526.18v8M126.21 529.66h8M130.21 525.66v8M131.38 529.3h8M135.38 525.3v8M135.93 528.7h8M139.93 524.7v8M143.68 527.93h8M147.68 523.93v8M147.05 527.42h8M151.05 523.42v8M153.01 526.25h8M157.01 522.25v8M158.17 524.79h8M162.17 520.79v8M164.81 522.71h8M168.81 518.71v8M170.48 521.17h8M174.48 517.17v8M175.42 519.27h8M179.42 515.27v8M181.15 517.83h8M185.15 513.83v8M186.15 515.65h8M190.15 511.65v8M191.6 513.64h8M195.6 509.64v8M197.27 510.47h8M201.27 506.47v8M202.21 508.66h8M206.21 504.66v8M207.95 505.1h8M211.95 501.1v8M212.94 501.41h8M216.94 497.41v8M218.39 497.47h8M222.39 493.47v8M224.06 492.78h8M228.06 488.78v8M229.38 488.43h8M233.38 484.43v8M234.74 484.37h8M238.74 480.37v8M240.02 480.36h8M244.02 476.36v8M245.44 476.18h8M249.44 472.18v8M250.85 471.94h8M254.85 467.94v8M256.37 468.4h8M260.37 464.4v8M261.69 464.59h8M265.69 460.59v8M267.1 460.4h8M271.1 456.4v8M272.48 456.25h8M276.48 452.25v8M277.86 452.39h8M281.86 448.39v8M283.25 447.55h8M287.25 443.55v8M288.65 442.26h8M292.65 438.26v8M294.11 437.85h8M298.11 433.85v8M299.52 433.02h8M303.52 429.02v8M304.92 429.61h8M308.92 425.61v8M310.28 425.12h8M314.28 421.12v8M315.69 420.66h8M319.69 416.66v8M321.12 416.8h8M325.12 412.8v8M326.5 412.68h8M330.5 408.68v8M331.91 408.46h8M335.91 404.46v8M337.31 404.85h8M341.31 400.85v8M342.71 401.47h8M346.71 397.47v8" stroke="#2d7a46" stroke-width="1.05" fill="none"/>
</g>
<path d="M259.8 354.8L323.3 302.9" stroke="#000" stroke-width="1.4"/>
<text x="295.26" y="347.9" font-family='"Liberation Serif", serif' font-size="13.5" stroke="#000" stroke-width="0.08" fill="#000">1</text>
<path d="M242.2 506.3L333.4 431.6" stroke="#000" stroke-width="1.4"/>
<text x="286.31" y="493.6" font-family='"Liberation Serif", serif' font-size="13.3" stroke="#000" stroke-width="0.08" fill="#000">1</text>
<text x="50.32" y="382.03" font-family='"Liberation Sans", sans-serif' font-size="13" stroke="#000" stroke-width="0.16" fill="#000">(b)</text>
<text x="50.32" y="514.52" font-family='"Liberation Sans", sans-serif' font-size="13" stroke="#000" stroke-width="0.16" fill="#000">(c)</text>
<path d="M55 402.7L55 398.3M55 251.5L55 255.9M144 402.7L144 398.3M144 251.5L144 255.9M233 402.7L233 398.3M233 251.5L233 255.9M322 402.7L322 398.3M322 251.5L322 255.9M46.38 402.7L46.38 400.3M46.38 251.5L46.38 253.9M50.93 402.7L50.93 400.3M50.93 251.5L50.93 253.9M81.79 402.7L81.79 400.3M81.79 251.5L81.79 253.9M97.46 402.7L97.46 400.3M97.46 251.5L97.46 253.9M108.58 402.7L108.58 400.3M108.58 251.5L108.58 253.9M117.21 402.7L117.21 400.3M117.21 251.5L117.21 253.9M124.26 402.7L124.26 400.3M124.26 251.5L124.26 253.9M130.21 402.7L130.21 400.3M130.21 251.5L130.21 253.9M135.38 402.7L135.38 400.3M135.38 251.5L135.38 253.9M139.93 402.7L139.93 400.3M139.93 251.5L139.93 253.9M170.79 402.7L170.79 400.3M170.79 251.5L170.79 253.9M186.46 402.7L186.46 400.3M186.46 251.5L186.46 253.9M197.58 402.7L197.58 400.3M197.58 251.5L197.58 253.9M206.21 402.7L206.21 400.3M206.21 251.5L206.21 253.9M213.26 402.7L213.26 400.3M213.26 251.5L213.26 253.9M219.21 402.7L219.21 400.3M219.21 251.5L219.21 253.9M224.38 402.7L224.38 400.3M224.38 251.5L224.38 253.9M228.93 402.7L228.93 400.3M228.93 251.5L228.93 253.9M259.79 402.7L259.79 400.3M259.79 251.5L259.79 253.9M275.46 402.7L275.46 400.3M275.46 251.5L275.46 253.9M286.58 402.7L286.58 400.3M286.58 251.5L286.58 253.9M295.21 402.7L295.21 400.3M295.21 251.5L295.21 253.9M302.26 402.7L302.26 400.3M302.26 251.5L302.26 253.9M308.21 402.7L308.21 400.3M308.21 251.5L308.21 253.9M313.38 402.7L313.38 400.3M313.38 251.5L313.38 253.9M317.93 402.7L317.93 400.3M317.93 251.5L317.93 253.9M46 399.5L50.4 399.5M348.6 399.5L344.2 399.5M46 325.5L50.4 325.5M348.6 325.5L344.2 325.5M46 377.22L48.4 377.22M348.6 377.22L346.2 377.22M46 364.19L48.4 364.19M348.6 364.19L346.2 364.19M46 354.95L48.4 354.95M348.6 354.95L346.2 354.95M46 347.78L48.4 347.78M348.6 347.78L346.2 347.78M46 341.92L48.4 341.92M348.6 341.92L346.2 341.92M46 336.96L48.4 336.96M348.6 336.96L346.2 336.96M46 332.67L48.4 332.67M348.6 332.67L346.2 332.67M46 328.89L48.4 328.89M348.6 328.89L346.2 328.89M46 303.22L48.4 303.22M348.6 303.22L346.2 303.22M46 290.19L48.4 290.19M348.6 290.19L346.2 290.19M46 280.95L48.4 280.95M348.6 280.95L346.2 280.95M46 273.78L48.4 273.78M348.6 273.78L346.2 273.78M46 267.92L48.4 267.92M348.6 267.92L346.2 267.92M46 262.96L48.4 262.96M348.6 262.96L346.2 262.96M46 258.67L48.4 258.67M348.6 258.67L346.2 258.67M46 254.89L48.4 254.89M348.6 254.89L346.2 254.89" stroke="#000" stroke-width="0.8" fill="none"/>
<rect x="46" y="251.5" width="302.6" height="151.2" fill="none" stroke="#000" stroke-width="1.3"/>
<path d="M55 553.6L55 549.2M55 402.7L55 407.1M144 553.6L144 549.2M144 402.7L144 407.1M233 553.6L233 549.2M233 402.7L233 407.1M322 553.6L322 549.2M322 402.7L322 407.1M46.38 553.6L46.38 551.2M46.38 402.7L46.38 405.1M50.93 553.6L50.93 551.2M50.93 402.7L50.93 405.1M81.79 553.6L81.79 551.2M81.79 402.7L81.79 405.1M97.46 553.6L97.46 551.2M97.46 402.7L97.46 405.1M108.58 553.6L108.58 551.2M108.58 402.7L108.58 405.1M117.21 553.6L117.21 551.2M117.21 402.7L117.21 405.1M124.26 553.6L124.26 551.2M124.26 402.7L124.26 405.1M130.21 553.6L130.21 551.2M130.21 402.7L130.21 405.1M135.38 553.6L135.38 551.2M135.38 402.7L135.38 405.1M139.93 553.6L139.93 551.2M139.93 402.7L139.93 405.1M170.79 553.6L170.79 551.2M170.79 402.7L170.79 405.1M186.46 553.6L186.46 551.2M186.46 402.7L186.46 405.1M197.58 553.6L197.58 551.2M197.58 402.7L197.58 405.1M206.21 553.6L206.21 551.2M206.21 402.7L206.21 405.1M213.26 553.6L213.26 551.2M213.26 402.7L213.26 405.1M219.21 553.6L219.21 551.2M219.21 402.7L219.21 405.1M224.38 553.6L224.38 551.2M224.38 402.7L224.38 405.1M228.93 553.6L228.93 551.2M228.93 402.7L228.93 405.1M259.79 553.6L259.79 551.2M259.79 402.7L259.79 405.1M275.46 553.6L275.46 551.2M275.46 402.7L275.46 405.1M286.58 553.6L286.58 551.2M286.58 402.7L286.58 405.1M295.21 553.6L295.21 551.2M295.21 402.7L295.21 405.1M302.26 553.6L302.26 551.2M302.26 402.7L302.26 405.1M308.21 553.6L308.21 551.2M308.21 402.7L308.21 405.1M313.38 553.6L313.38 551.2M313.38 402.7L313.38 405.1M317.93 553.6L317.93 551.2M317.93 402.7L317.93 405.1M46 551.1L50.4 551.1M348.6 551.1L344.2 551.1M46 476.9L50.4 476.9M348.6 476.9L344.2 476.9M46 528.76L48.4 528.76M348.6 528.76L346.2 528.76M46 515.7L48.4 515.7M348.6 515.7L346.2 515.7M46 506.43L48.4 506.43M348.6 506.43L346.2 506.43M46 499.24L48.4 499.24M348.6 499.24L346.2 499.24M46 493.36L48.4 493.36M348.6 493.36L346.2 493.36M46 488.39L48.4 488.39M348.6 488.39L346.2 488.39M46 484.09L48.4 484.09M348.6 484.09L346.2 484.09M46 480.3L48.4 480.3M348.6 480.3L346.2 480.3M46 454.56L48.4 454.56M348.6 454.56L346.2 454.56M46 441.5L48.4 441.5M348.6 441.5L346.2 441.5M46 432.23L48.4 432.23M348.6 432.23L346.2 432.23M46 425.04L48.4 425.04M348.6 425.04L346.2 425.04M46 419.16L48.4 419.16M348.6 419.16L346.2 419.16M46 414.19L48.4 414.19M348.6 414.19L346.2 414.19M46 409.89L48.4 409.89M348.6 409.89L346.2 409.89M46 406.1L48.4 406.1M348.6 406.1L346.2 406.1" stroke="#000" stroke-width="0.8" fill="none"/>
<rect x="46" y="402.7" width="302.6" height="150.9" fill="none" stroke="#000" stroke-width="1.3"/>
<text transform="translate(19.14 256.51) scale(1.0937 1)" font-family='"Liberation Serif", serif' font-size="9.3" stroke="#000" stroke-width="0.08" fill="#000">10</text>
<rect x="30.1" y="250.85" width="5.6" height="0.85" fill="#000"/>
<text x="36.56" y="253.6" font-family='"Liberation Serif", serif' font-size="7.6" stroke="#000" stroke-width="0.08" fill="#000">1</text>
<text transform="translate(18.8 330.51) scale(1.0937 1)" font-family='"Liberation Serif", serif' font-size="9.3" stroke="#000" stroke-width="0.08" fill="#000">10</text>
<rect x="29.76" y="324.85" width="5.6" height="0.85" fill="#000"/>
<text x="36.52" y="327.6" font-family='"Liberation Serif", serif' font-size="7.6" stroke="#000" stroke-width="0.08" fill="#000">2</text>
<text transform="translate(18.68 404.51) scale(1.0937 1)" font-family='"Liberation Serif", serif' font-size="9.3" stroke="#000" stroke-width="0.08" fill="#000">10</text>
<rect x="29.65" y="398.85" width="5.6" height="0.85" fill="#000"/>
<text x="36.4" y="401.52" font-family='"Liberation Serif", serif' font-size="7.6" stroke="#000" stroke-width="0.08" fill="#000">3</text>
<text transform="translate(18.8 481.91) scale(1.0937 1)" font-family='"Liberation Serif", serif' font-size="9.3" stroke="#000" stroke-width="0.08" fill="#000">10</text>
<rect x="29.76" y="476.25" width="5.6" height="0.85" fill="#000"/>
<text x="36.52" y="479" font-family='"Liberation Serif", serif' font-size="7.6" stroke="#000" stroke-width="0.08" fill="#000">2</text>
<text transform="translate(18.68 556.11) scale(1.0937 1)" font-family='"Liberation Serif", serif' font-size="9.3" stroke="#000" stroke-width="0.08" fill="#000">10</text>
<rect x="29.65" y="550.45" width="5.6" height="0.85" fill="#000"/>
<text x="36.4" y="553.12" font-family='"Liberation Serif", serif' font-size="7.6" stroke="#000" stroke-width="0.08" fill="#000">3</text>
<text transform="translate(44.62 567.91) scale(1.0937 1)" font-family='"Liberation Serif", serif' font-size="9.3" stroke="#000" stroke-width="0.08" fill="#000">10</text>
<rect x="55.58" y="562.25" width="5.6" height="0.85" fill="#000"/>
<text x="62.34" y="565" font-family='"Liberation Serif", serif' font-size="7.6" stroke="#000" stroke-width="0.08" fill="#000">2</text>
<text transform="translate(133.79 567.91) scale(1.0937 1)" font-family='"Liberation Serif", serif' font-size="9.3" stroke="#000" stroke-width="0.08" fill="#000">10</text>
<rect x="144.75" y="562.25" width="5.6" height="0.85" fill="#000"/>
<text x="151.2" y="565" font-family='"Liberation Serif", serif' font-size="7.6" stroke="#000" stroke-width="0.08" fill="#000">1</text>
<text transform="translate(225.99 567.91) scale(1.0937 1)" font-family='"Liberation Serif", serif' font-size="9.3" stroke="#000" stroke-width="0.08" fill="#000">10</text>
<text x="236.85" y="564.92" font-family='"Liberation Serif", serif' font-size="7.6" stroke="#000" stroke-width="0.08" fill="#000">0</text>
<text transform="translate(315.24 567.91) scale(1.0937 1)" font-family='"Liberation Serif", serif' font-size="9.3" stroke="#000" stroke-width="0.08" fill="#000">10</text>
<text x="325.75" y="565" font-family='"Liberation Serif", serif' font-size="7.6" stroke="#000" stroke-width="0.08" fill="#000">1</text>
<text x="180.82" y="581.6" font-family='"Liberation Sans", sans-serif' font-size="9.1" stroke="#000" stroke-width="0.16" fill="#000">Time (s)</text>
<g fill="#ffcc00" stroke="none" stroke-width="0"><circle cx="55.5" cy="262.1" r="2.6"/><circle cx="66.5" cy="262.1" r="2.6"/></g>
<g fill="none" stroke="#8dc63f" stroke-width="0.95"><circle cx="55.5" cy="273.4" r="2.4"/><circle cx="66.5" cy="273.4" r="2.4"/></g>
<path d="M51.2 284.9h8.6M55.5 280.6v8.6M62.2 284.9h8.6M66.5 280.6v8.6" stroke="#2d7a46" stroke-width="1.1" fill="none"/>
<text transform="translate(75.21 265.22) scale(1.1485 1)" font-family='"Liberation Serif", serif' font-size="8.5" stroke="#000" stroke-width="0.08" fill="#000">0</text>
<text transform="translate(80.32 265.17) scale(1.2611 1)" font-family='"Liberation Serif", serif' font-size="8.5" stroke="#000" stroke-width="0.08" fill="#000">%</text>
<text transform="translate(91.05 264.92) scale(0.9604 1)" font-family='"Liberation Sans", sans-serif' font-size="8.5" stroke="#000" stroke-width="0.16" fill="#000">PEG</text>
<text transform="translate(75.16 276.21) scale(1.1623 1)" font-family='"Liberation Serif", serif' font-size="8.5" stroke="#000" stroke-width="0.08" fill="#000">3</text>
<text transform="translate(80.32 276.47) scale(1.2611 1)" font-family='"Liberation Serif", serif' font-size="8.5" stroke="#000" stroke-width="0.08" fill="#000">%</text>
<text transform="translate(91.05 276.21) scale(0.9604 1)" font-family='"Liberation Sans", sans-serif' font-size="8.5" stroke="#000" stroke-width="0.16" fill="#000">PEG</text>
<text transform="translate(75.22 288.01) scale(1.1218 1)" font-family='"Liberation Serif", serif' font-size="8.5" stroke="#000" stroke-width="0.08" fill="#000">6</text>
<text transform="translate(80.32 287.97) scale(1.2611 1)" font-family='"Liberation Serif", serif' font-size="8.5" stroke="#000" stroke-width="0.08" fill="#000">%</text>
<text transform="translate(91.05 287.71) scale(0.9604 1)" font-family='"Liberation Sans", sans-serif' font-size="8.5" stroke="#000" stroke-width="0.16" fill="#000">PEG</text>
<text x="70.57" y="303.61" font-family='"Liberation Sans", sans-serif' font-size="8.6" stroke="#000" stroke-width="0.16" fill="#000">Control</text>
<g fill="#ffcc00" stroke="none" stroke-width="0"><circle cx="55.5" cy="413.1" r="2.6"/><circle cx="66.5" cy="413.1" r="2.6"/></g>
<g fill="none" stroke="#8dc63f" stroke-width="0.95"><circle cx="55.5" cy="424.4" r="2.4"/><circle cx="66.5" cy="424.4" r="2.4"/></g>
<path d="M51.2 435.9h8.6M55.5 431.6v8.6M62.2 435.9h8.6M66.5 431.6v8.6" stroke="#2d7a46" stroke-width="1.1" fill="none"/>
<text transform="translate(75.21 416.22) scale(1.1485 1)" font-family='"Liberation Serif", serif' font-size="8.5" stroke="#000" stroke-width="0.08" fill="#000">0</text>
<text transform="translate(80.32 416.17) scale(1.2611 1)" font-family='"Liberation Serif", serif' font-size="8.5" stroke="#000" stroke-width="0.08" fill="#000">%</text>
<text transform="translate(91.05 415.92) scale(0.9604 1)" font-family='"Liberation Sans", sans-serif' font-size="8.5" stroke="#000" stroke-width="0.16" fill="#000">PEG</text>
<text transform="translate(75.16 427.21) scale(1.1623 1)" font-family='"Liberation Serif", serif' font-size="8.5" stroke="#000" stroke-width="0.08" fill="#000">3</text>
<text transform="translate(80.32 427.47) scale(1.2611 1)" font-family='"Liberation Serif", serif' font-size="8.5" stroke="#000" stroke-width="0.08" fill="#000">%</text>
<text transform="translate(91.05 427.21) scale(0.9604 1)" font-family='"Liberation Sans", sans-serif' font-size="8.5" stroke="#000" stroke-width="0.16" fill="#000">PEG</text>
<text transform="translate(75.22 439.01) scale(1.1218 1)" font-family='"Liberation Serif", serif' font-size="8.5" stroke="#000" stroke-width="0.08" fill="#000">6</text>
<text transform="translate(80.32 438.97) scale(1.2611 1)" font-family='"Liberation Serif", serif' font-size="8.5" stroke="#000" stroke-width="0.08" fill="#000">%</text>
<text transform="translate(91.05 438.71) scale(0.9604 1)" font-family='"Liberation Sans", sans-serif' font-size="8.5" stroke="#000" stroke-width="0.16" fill="#000">PEG</text>
<text x="70.57" y="454.61" font-family='"Liberation Sans", sans-serif' font-size="8.6" stroke="#000" stroke-width="0.16" fill="#000">Control</text>
<text transform="rotate(-90)" x="-372.42" y="8.1" font-family='"Liberation Sans", sans-serif' font-size="9" fill="#000" stroke="#000" stroke-width="0.28">MSD</text>
<text transform="rotate(-90)" x="-349.18" y="8.1" font-family='"Liberation Sans", sans-serif' font-size="9" fill="#000" stroke="#000" stroke-width="0.28">·</text>
<text transform="rotate(-90)" x="-342.63" y="8.1" font-family='"Liberation Serif", serif' font-size="9.6" font-style="italic" fill="#000" stroke="#000" stroke-width="0.28">G</text>
<text transform="rotate(-90)" x="-335.66" y="8.1" font-family='"Liberation Serif", serif' font-size="9.6" font-style="italic" fill="#000" stroke="#000" stroke-width="0.28">′</text>
<text transform="rotate(-90)" x="-328" y="8.1" font-family='"Liberation Serif", serif' font-size="9" fill="#000" stroke="#000" stroke-width="0.28">(</text>
<text transform="rotate(-90)" x="-322.8" y="8.1" font-family='"Liberation Serif", serif' font-size="10.5" font-style="italic" fill="#000" stroke="#000" stroke-width="0.28">μ</text>
<text transform="rotate(-90)" x="-317.9" y="8.1" font-family='"Liberation Serif", serif' font-size="9.8" fill="#000" stroke="#000" stroke-width="0.28">m</text>
<text transform="rotate(-90)" x="-310.71" y="4.5" font-family='"Liberation Serif", serif' font-size="7" fill="#000" stroke="#000" stroke-width="0.28">2</text>
<text transform="rotate(-90)" x="-302.75" y="8.1" font-family='"Liberation Serif", serif' font-size="9" fill="#000" stroke="#000" stroke-width="0.28">·</text>
<text transform="rotate(-90)" x="-297.42" y="8.1" font-family='"Liberation Sans", sans-serif' font-size="9" fill="#000" stroke="#000" stroke-width="0.28">Pa</text>
<text transform="rotate(-90)" x="-286.67" y="8.1" font-family='"Liberation Serif", serif' font-size="9" fill="#000" stroke="#000" stroke-width="0.28">)</text>
<text transform="rotate(-90)" x="-527.82" y="8.1" font-family='"Liberation Sans", sans-serif' font-size="9" fill="#000" stroke="#000" stroke-width="0.28">MSD</text>
<text transform="rotate(-90)" x="-505.28" y="8.1" font-family='"Liberation Sans", sans-serif' font-size="9" fill="#000" stroke="#000" stroke-width="0.28">·</text>
<text transform="rotate(-90)" x="-496.83" y="8.1" font-family='"Liberation Serif", serif' font-size="9.6" font-style="italic" fill="#000" stroke="#000" stroke-width="0.28">G</text>
<text transform="rotate(-90)" x="-489.96" y="8.1" font-family='"Liberation Serif", serif' font-size="9.6" font-style="italic" fill="#000" stroke="#000" stroke-width="0.28">′</text>
<text transform="rotate(-90)" x="-488.71" y="4.5" font-family='"Liberation Serif", serif' font-size="7" fill="#000" stroke="#000" stroke-width="0.28">2</text>
<text transform="rotate(-90)" x="-479.8" y="8.1" font-family='"Liberation Serif", serif' font-size="9" fill="#000" stroke="#000" stroke-width="0.28">(</text>
<text transform="rotate(-90)" x="-475.5" y="8.1" font-family='"Liberation Serif", serif' font-size="10.5" font-style="italic" fill="#000" stroke="#000" stroke-width="0.28">μ</text>
<text transform="rotate(-90)" x="-469.8" y="8.1" font-family='"Liberation Serif", serif' font-size="9.8" fill="#000" stroke="#000" stroke-width="0.28">m</text>
<text transform="rotate(-90)" x="-461.71" y="4.5" font-family='"Liberation Serif", serif' font-size="7" fill="#000" stroke="#000" stroke-width="0.28">2</text>
<text transform="rotate(-90)" x="-454.34" y="8.1" font-family='"Liberation Serif", serif' font-size="9" fill="#000" stroke="#000" stroke-width="0.28">·</text>
<text transform="rotate(-90)" x="-448.12" y="8.1" font-family='"Liberation Sans", sans-serif' font-size="9" fill="#000" stroke="#000" stroke-width="0.28">Pa</text>
<text transform="rotate(-90)" x="-435.92" y="4.5" font-family='"Liberation Serif", serif' font-size="7" fill="#000" stroke="#000" stroke-width="0.28">2</text>
<text transform="rotate(-90)" x="-432.57" y="8.1" font-family='"Liberation Serif", serif' font-size="9" fill="#000" stroke="#000" stroke-width="0.28">)</text>
</svg>
</div></body></html>
